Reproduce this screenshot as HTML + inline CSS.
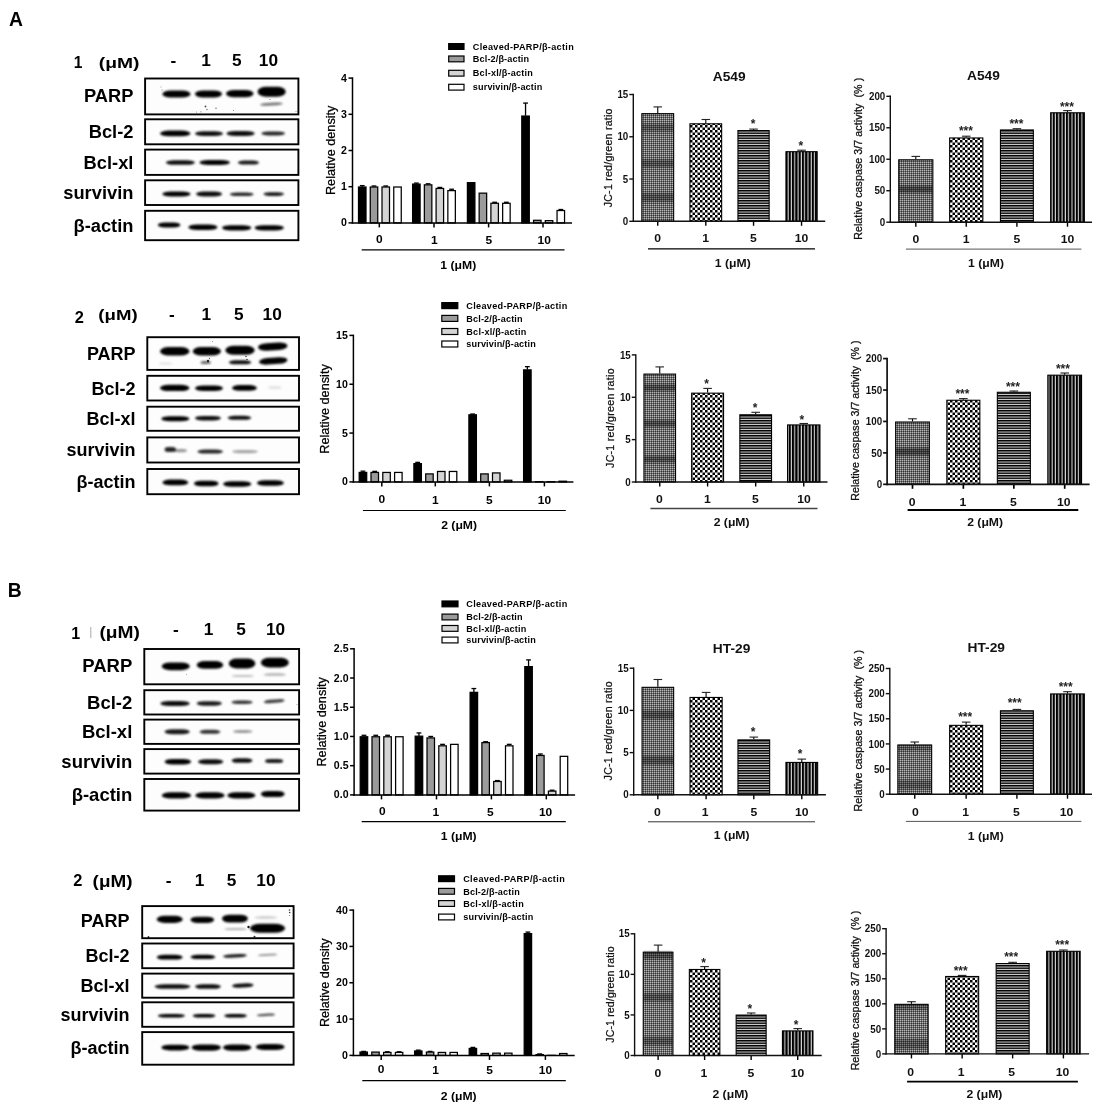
<!DOCTYPE html>
<html lang="en"><head><meta charset="utf-8"><title>Figure</title>
<style>
html,body{margin:0;padding:0;background:#fff;}
body{width:1111px;height:1113px;overflow:hidden;font-family:'Liberation Sans', Arial, Helvetica, sans-serif;}
svg{display:block;font-family:'Liberation Sans', Arial, Helvetica, sans-serif;}
</style></head><body>
<svg width="1111" height="1113" viewBox="0 0 1111 1113">
<defs>
<filter id="bl" x="-10%" y="-50%" width="120%" height="200%"><feGaussianBlur stdDeviation="0.9"/></filter>
<filter id="bl3" x="-50%" y="-50%" width="200%" height="200%"><feGaussianBlur stdDeviation="0.45"/></filter>
<filter id="bl2" x="-5%" y="-50%" width="110%" height="200%"><feGaussianBlur stdDeviation="0 1.2"/></filter>
<pattern id="pdot" width="2" height="2" patternUnits="userSpaceOnUse"><rect width="2" height="2" fill="#6e6e6e"/><rect width="1" height="1" fill="#b8b8b8"/><rect x="1" y="1" width="1" height="1" fill="#343434"/></pattern>
<pattern id="pchk" width="5.0" height="5.0" patternUnits="userSpaceOnUse"><rect width="5" height="5" fill="#fff"/><rect width="2.5" height="2.5" fill="#000"/><rect x="2.5" y="2.5" width="2.5" height="2.5" fill="#000"/></pattern>
<pattern id="phl" width="4" height="2.5" patternUnits="userSpaceOnUse"><rect width="4" height="2.5" fill="#dcdcdc"/><rect width="4" height="1.5" fill="#000"/></pattern>
<pattern id="pvl" width="3.3" height="4" patternUnits="userSpaceOnUse"><rect width="3.3" height="4" fill="#d8d8d8"/><rect width="2.2" height="4" fill="#000"/></pattern>
</defs>
<rect width="1111" height="1113" fill="#fff"/>
<text transform="translate(78.10,67.88)" font-size="15.6" font-weight="bold" text-anchor="middle" fill="#000" >1</text>
<text transform="translate(119.05,67.67)" font-size="15" font-weight="bold" text-anchor="middle" fill="#000" textLength="40.7" lengthAdjust="spacingAndGlyphs">(μM)</text>
<text transform="translate(173.40,65.93) scale(1.08,1)" font-size="16" font-weight="bold" text-anchor="middle" fill="#000" >-</text>
<text transform="translate(206.00,65.93) scale(1.08,1)" font-size="16" font-weight="bold" text-anchor="middle" fill="#000" >1</text>
<text transform="translate(236.80,65.93) scale(1.08,1)" font-size="16" font-weight="bold" text-anchor="middle" fill="#000" >5</text>
<text transform="translate(268.40,65.93) scale(1.08,1)" font-size="16" font-weight="bold" text-anchor="middle" fill="#000" >10</text>
<text transform="translate(133.40,101.50)" font-size="18.3" font-weight="bold" text-anchor="end" fill="#000" >PARP</text>
<rect x="145.10" y="78.50" width="153.30" height="35.90" fill="#fdfdfd" stroke="none" stroke-width="1.0" />
<text transform="translate(133.40,138.35)" font-size="18.3" font-weight="bold" text-anchor="end" fill="#000" >Bcl-2</text>
<rect x="145.10" y="119.30" width="153.30" height="25.00" fill="#fdfdfd" stroke="none" stroke-width="1.0" />
<text transform="translate(133.40,168.80)" font-size="18.3" font-weight="bold" text-anchor="end" fill="#000" >Bcl-xl</text>
<rect x="145.10" y="149.60" width="153.30" height="25.30" fill="#fdfdfd" stroke="none" stroke-width="1.0" />
<text transform="translate(133.40,199.20)" font-size="18.3" font-weight="bold" text-anchor="end" fill="#000" >survivin</text>
<rect x="145.10" y="180.30" width="153.30" height="24.70" fill="#fdfdfd" stroke="none" stroke-width="1.0" />
<text transform="translate(133.40,232.05)" font-size="18.3" font-weight="bold" text-anchor="end" fill="#000" >β-actin</text>
<rect x="145.10" y="210.80" width="153.30" height="29.40" fill="#fdfdfd" stroke="none" stroke-width="1.0" />
<g filter="url(#bl)">
<rect x="162.40" y="90.40" width="28.10" height="7.20" rx="8.43" ry="3.60" fill="#000" fill-opacity="1" transform="rotate(0 176.4 94.0)"/>
<rect x="195.00" y="90.60" width="27.00" height="6.80" rx="8.10" ry="3.40" fill="#000" fill-opacity="1" transform="rotate(0 208.5 94.0)"/>
<rect x="226.00" y="90.00" width="27.50" height="7.20" rx="8.25" ry="3.60" fill="#000" fill-opacity="1" transform="rotate(0 239.8 93.6)"/>
<rect x="257.60" y="86.80" width="28.10" height="10.00" rx="8.43" ry="5.00" fill="#000" fill-opacity="1" transform="rotate(0 271.6 91.8)"/>
<rect x="260.00" y="102.75" width="22.80" height="2.70" rx="6.84" ry="1.35" fill="#000" fill-opacity="0.55" transform="rotate(-3 271.4 104.1)"/>
<rect x="160.00" y="130.60" width="30.50" height="5.60" rx="9.15" ry="2.80" fill="#000" fill-opacity="1" transform="rotate(0 175.2 133.4)"/>
<rect x="195.00" y="131.30" width="28.00" height="4.60" rx="8.40" ry="2.30" fill="#000" fill-opacity="0.95" transform="rotate(0 209.0 133.6)"/>
<rect x="226.50" y="131.10" width="28.10" height="5.00" rx="8.43" ry="2.50" fill="#000" fill-opacity="0.95" transform="rotate(0 240.6 133.6)"/>
<rect x="261.40" y="131.40" width="23.60" height="4.00" rx="7.08" ry="2.00" fill="#000" fill-opacity="0.85" transform="rotate(0 273.2 133.4)"/>
<rect x="165.80" y="160.35" width="29.20" height="4.50" rx="8.76" ry="2.25" fill="#000" fill-opacity="0.95" transform="rotate(0 180.4 162.6)"/>
<rect x="199.50" y="160.10" width="30.40" height="5.00" rx="9.12" ry="2.50" fill="#000" fill-opacity="1" transform="rotate(0 214.7 162.6)"/>
<rect x="237.80" y="160.60" width="21.30" height="4.00" rx="6.39" ry="2.00" fill="#000" fill-opacity="0.9" transform="rotate(0 248.5 162.6)"/>
<rect x="162.40" y="191.60" width="28.10" height="5.00" rx="8.43" ry="2.50" fill="#000" fill-opacity="1" transform="rotate(0 176.4 194.1)"/>
<rect x="196.10" y="191.60" width="25.90" height="5.00" rx="7.77" ry="2.50" fill="#000" fill-opacity="0.95" transform="rotate(0 209.1 194.1)"/>
<rect x="229.90" y="192.50" width="23.60" height="3.60" rx="7.08" ry="1.80" fill="#000" fill-opacity="0.85" transform="rotate(0 241.7 194.3)"/>
<rect x="263.60" y="192.30" width="20.30" height="3.60" rx="6.09" ry="1.80" fill="#000" fill-opacity="0.9" transform="rotate(0 273.8 194.1)"/>
<rect x="157.90" y="222.50" width="22.50" height="5.00" rx="6.75" ry="2.50" fill="#000" fill-opacity="1" transform="rotate(0 169.2 225.0)"/>
<rect x="188.30" y="224.40" width="29.20" height="5.60" rx="8.76" ry="2.80" fill="#000" fill-opacity="1" transform="rotate(0 202.9 227.2)"/>
<rect x="222.00" y="225.20" width="29.30" height="5.20" rx="8.79" ry="2.60" fill="#000" fill-opacity="1" transform="rotate(0 236.7 227.8)"/>
<rect x="254.60" y="225.20" width="29.30" height="5.20" rx="8.79" ry="2.60" fill="#000" fill-opacity="1" transform="rotate(0 269.2 227.8)"/>
</g>
<g filter="url(#bl3)">
<circle cx="205.5" cy="106.5" r="0.9" fill="#000" fill-opacity="0.7"/>
<circle cx="207" cy="109.5" r="0.7" fill="#000" fill-opacity="0.6"/>
<circle cx="201" cy="111.8" r="0.6" fill="#000" fill-opacity="0.5"/>
<circle cx="216" cy="108.3" r="0.7" fill="#000" fill-opacity="0.6"/>
<circle cx="196.5" cy="112" r="0.5" fill="#000" fill-opacity="0.5"/>
<circle cx="233.5" cy="110.5" r="0.6" fill="#000" fill-opacity="0.5"/>
<circle cx="296" cy="111.5" r="0.5" fill="#000" fill-opacity="0.5"/>
<circle cx="161" cy="87" r="0.7" fill="#000" fill-opacity="0.25"/>
<circle cx="162" cy="90" r="0.7" fill="#000" fill-opacity="0.3"/>
<circle cx="270" cy="99.5" r="0.6" fill="#000" fill-opacity="0.5"/>
</g>
<rect x="145.10" y="78.50" width="153.30" height="35.90" fill="none" stroke="#000" stroke-width="1.9" />
<rect x="145.10" y="119.30" width="153.30" height="25.00" fill="none" stroke="#000" stroke-width="1.9" />
<rect x="145.10" y="149.60" width="153.30" height="25.30" fill="none" stroke="#000" stroke-width="1.9" />
<rect x="145.10" y="180.30" width="153.30" height="24.70" fill="none" stroke="#000" stroke-width="1.9" />
<rect x="145.10" y="210.80" width="153.30" height="29.40" fill="none" stroke="#000" stroke-width="1.9" />
<text transform="translate(79.40,322.67)" font-size="16.4" font-weight="bold" text-anchor="middle" fill="#000" >2</text>
<text transform="translate(117.95,320.37)" font-size="15" font-weight="bold" text-anchor="middle" fill="#000" textLength="39.3" lengthAdjust="spacingAndGlyphs">(μM)</text>
<text transform="translate(171.80,320.33) scale(1.08,1)" font-size="16" font-weight="bold" text-anchor="middle" fill="#000" >-</text>
<text transform="translate(206.30,320.33) scale(1.08,1)" font-size="16" font-weight="bold" text-anchor="middle" fill="#000" >1</text>
<text transform="translate(238.90,320.33) scale(1.08,1)" font-size="16" font-weight="bold" text-anchor="middle" fill="#000" >5</text>
<text transform="translate(272.20,320.33) scale(1.08,1)" font-size="16" font-weight="bold" text-anchor="middle" fill="#000" >10</text>
<text transform="translate(135.60,359.99)" font-size="18" font-weight="bold" text-anchor="end" fill="#000" >PARP</text>
<rect x="147.30" y="337.20" width="151.70" height="32.70" fill="#fdfdfd" stroke="none" stroke-width="1.0" />
<text transform="translate(135.60,394.59)" font-size="18" font-weight="bold" text-anchor="end" fill="#000" >Bcl-2</text>
<rect x="147.30" y="375.80" width="151.70" height="24.70" fill="#fdfdfd" stroke="none" stroke-width="1.0" />
<text transform="translate(135.60,425.19)" font-size="18" font-weight="bold" text-anchor="end" fill="#000" >Bcl-xl</text>
<rect x="147.30" y="406.70" width="151.70" height="24.10" fill="#fdfdfd" stroke="none" stroke-width="1.0" />
<text transform="translate(135.60,456.39)" font-size="18" font-weight="bold" text-anchor="end" fill="#000" >survivin</text>
<rect x="147.30" y="437.40" width="151.70" height="25.10" fill="#fdfdfd" stroke="none" stroke-width="1.0" />
<text transform="translate(135.60,488.04)" font-size="18" font-weight="bold" text-anchor="end" fill="#000" >β-actin</text>
<rect x="147.30" y="469.00" width="151.70" height="25.20" fill="#fdfdfd" stroke="none" stroke-width="1.0" />
<g filter="url(#bl)">
<rect x="160.10" y="346.95" width="29.30" height="8.50" rx="8.79" ry="4.25" fill="#000" fill-opacity="1" transform="rotate(0 174.8 351.2)"/>
<rect x="192.80" y="346.95" width="28.10" height="8.50" rx="8.43" ry="4.25" fill="#000" fill-opacity="1" transform="rotate(0 206.9 351.2)"/>
<rect x="225.40" y="345.80" width="29.20" height="9.00" rx="8.76" ry="4.50" fill="#000" fill-opacity="1" transform="rotate(0 240.0 350.3)"/>
<rect x="258.00" y="342.85" width="29.50" height="7.50" rx="8.85" ry="3.75" fill="#000" fill-opacity="1" transform="rotate(-3 272.8 346.6)"/>
<rect x="259.00" y="357.60" width="28.50" height="6.60" rx="8.55" ry="3.30" fill="#000" fill-opacity="1" transform="rotate(-4 273.2 360.9)"/>
<rect x="228.80" y="360.30" width="22.50" height="4.00" rx="6.75" ry="2.00" fill="#000" fill-opacity="0.95" transform="rotate(0 240.1 362.3)"/>
<rect x="200.60" y="361.00" width="10.20" height="3.00" rx="3.06" ry="1.50" fill="#000" fill-opacity="0.6" transform="rotate(0 205.7 362.5)"/>
<rect x="159.00" y="362.50" width="13.00" height="2.00" rx="3.90" ry="1.00" fill="#000" fill-opacity="0.12" transform="rotate(0 165.5 363.5)"/>
<rect x="160.00" y="384.75" width="29.40" height="6.30" rx="8.82" ry="3.15" fill="#000" fill-opacity="1" transform="rotate(0 174.7 387.9)"/>
<rect x="195.00" y="385.40" width="28.00" height="5.60" rx="8.40" ry="2.80" fill="#000" fill-opacity="1" transform="rotate(0 209.0 388.2)"/>
<rect x="232.00" y="385.10" width="24.90" height="5.60" rx="7.47" ry="2.80" fill="#000" fill-opacity="1" transform="rotate(0 244.4 387.9)"/>
<rect x="268.00" y="386.00" width="13.60" height="3.00" rx="4.08" ry="1.50" fill="#000" fill-opacity="0.1" transform="rotate(0 274.8 387.5)"/>
<rect x="161.30" y="416.20" width="28.10" height="5.00" rx="8.43" ry="2.50" fill="#000" fill-opacity="1" transform="rotate(0 175.4 418.7)"/>
<rect x="195.00" y="415.95" width="25.90" height="4.50" rx="7.77" ry="2.25" fill="#000" fill-opacity="0.95" transform="rotate(0 207.9 418.2)"/>
<rect x="227.60" y="415.80" width="23.70" height="4.00" rx="7.11" ry="2.00" fill="#000" fill-opacity="0.95" transform="rotate(0 239.4 417.8)"/>
<rect x="164.60" y="447.10" width="11.40" height="5.00" rx="3.42" ry="2.50" fill="#000" fill-opacity="0.85" transform="rotate(0 170.3 449.6)"/>
<rect x="174.00" y="448.90" width="13.00" height="3.40" rx="3.90" ry="1.70" fill="#000" fill-opacity="0.4" transform="rotate(0 180.5 450.6)"/>
<rect x="197.30" y="449.60" width="25.80" height="4.00" rx="7.74" ry="2.00" fill="#000" fill-opacity="0.85" transform="rotate(0 210.2 451.6)"/>
<rect x="232.10" y="450.00" width="25.90" height="3.20" rx="7.77" ry="1.60" fill="#000" fill-opacity="0.35" transform="rotate(0 245.1 451.6)"/>
<rect x="162.40" y="479.60" width="25.90" height="5.60" rx="7.77" ry="2.80" fill="#000" fill-opacity="1" transform="rotate(0 175.4 482.4)"/>
<rect x="193.90" y="480.70" width="24.70" height="5.60" rx="7.41" ry="2.80" fill="#000" fill-opacity="1" transform="rotate(0 206.2 483.5)"/>
<rect x="223.10" y="481.20" width="28.20" height="5.60" rx="8.46" ry="2.80" fill="#000" fill-opacity="1" transform="rotate(0 237.2 484.0)"/>
<rect x="256.90" y="480.20" width="27.00" height="5.60" rx="8.10" ry="2.80" fill="#000" fill-opacity="1" transform="rotate(0 270.4 483.0)"/>
</g>
<g filter="url(#bl3)">
<circle cx="208" cy="361" r="1.2" fill="#000" fill-opacity="0.8"/>
<circle cx="209.5" cy="358.5" r="0.7" fill="#000" fill-opacity="0.6"/>
<circle cx="246" cy="356.5" r="0.8" fill="#000" fill-opacity="0.7"/>
<circle cx="247" cy="359.5" r="0.8" fill="#000" fill-opacity="0.7"/>
<circle cx="212.5" cy="341.5" r="0.5" fill="#000" fill-opacity="0.5"/>
</g>
<rect x="147.30" y="337.20" width="151.70" height="32.70" fill="none" stroke="#000" stroke-width="1.9" />
<rect x="147.30" y="375.80" width="151.70" height="24.70" fill="none" stroke="#000" stroke-width="1.9" />
<rect x="147.30" y="406.70" width="151.70" height="24.10" fill="none" stroke="#000" stroke-width="1.9" />
<rect x="147.30" y="437.40" width="151.70" height="25.10" fill="none" stroke="#000" stroke-width="1.9" />
<rect x="147.30" y="469.00" width="151.70" height="25.20" fill="none" stroke="#000" stroke-width="1.9" />
<text transform="translate(75.65,638.93)" font-size="16" font-weight="bold" text-anchor="middle" fill="#000" >1</text>
<text transform="translate(119.65,638.11)" font-size="16.5" font-weight="bold" text-anchor="middle" fill="#000" textLength="40.5" lengthAdjust="spacingAndGlyphs">(μM)</text>
<text transform="translate(175.90,635.33) scale(1.08,1)" font-size="16" font-weight="bold" text-anchor="middle" fill="#000" >-</text>
<text transform="translate(208.50,635.33) scale(1.08,1)" font-size="16" font-weight="bold" text-anchor="middle" fill="#000" >1</text>
<text transform="translate(241.10,635.33) scale(1.08,1)" font-size="16" font-weight="bold" text-anchor="middle" fill="#000" >5</text>
<text transform="translate(275.60,635.33) scale(1.08,1)" font-size="16" font-weight="bold" text-anchor="middle" fill="#000" >10</text>
<line x1="90.80" y1="626.90" x2="90.80" y2="638.10" stroke="#a8a8a8" stroke-width="1.0" stroke-linecap="butt"/>
<text transform="translate(132.30,671.97)" font-size="18.5" font-weight="bold" text-anchor="end" fill="#000" >PARP</text>
<rect x="144.30" y="649.00" width="154.80" height="35.30" fill="#fdfdfd" stroke="none" stroke-width="1.0" />
<text transform="translate(132.30,708.97)" font-size="18.5" font-weight="bold" text-anchor="end" fill="#000" >Bcl-2</text>
<rect x="144.30" y="690.20" width="154.80" height="24.30" fill="#fdfdfd" stroke="none" stroke-width="1.0" />
<text transform="translate(132.30,738.37)" font-size="18.5" font-weight="bold" text-anchor="end" fill="#000" >Bcl-xl</text>
<rect x="144.30" y="719.60" width="154.80" height="24.30" fill="#fdfdfd" stroke="none" stroke-width="1.0" />
<text transform="translate(132.30,767.97)" font-size="18.5" font-weight="bold" text-anchor="end" fill="#000" >survivin</text>
<rect x="144.30" y="749.10" width="154.80" height="24.50" fill="#fdfdfd" stroke="none" stroke-width="1.0" />
<text transform="translate(132.30,801.42)" font-size="18.5" font-weight="bold" text-anchor="end" fill="#000" >β-actin</text>
<rect x="144.30" y="779.00" width="154.80" height="31.60" fill="#fdfdfd" stroke="none" stroke-width="1.0" />
<g filter="url(#bl)">
<rect x="161.80" y="662.40" width="27.90" height="7.80" rx="8.37" ry="3.90" fill="#000" fill-opacity="1" transform="rotate(0 175.8 666.3)"/>
<rect x="196.70" y="661.00" width="26.50" height="7.80" rx="7.95" ry="3.90" fill="#000" fill-opacity="1" transform="rotate(0 209.9 664.9)"/>
<rect x="228.80" y="658.60" width="26.50" height="9.80" rx="7.95" ry="4.90" fill="#000" fill-opacity="1" transform="rotate(0 242.1 663.5)"/>
<rect x="260.90" y="657.70" width="27.90" height="9.80" rx="8.37" ry="4.90" fill="#000" fill-opacity="1" transform="rotate(0 274.9 662.6)"/>
<rect x="231.60" y="675.00" width="22.30" height="2.00" rx="6.69" ry="1.00" fill="#000" fill-opacity="0.25" transform="rotate(0 242.8 676.0)"/>
<rect x="263.70" y="673.35" width="22.30" height="2.50" rx="6.69" ry="1.25" fill="#000" fill-opacity="0.3" transform="rotate(0 274.9 674.6)"/>
<rect x="160.40" y="701.10" width="29.30" height="5.00" rx="8.79" ry="2.50" fill="#000" fill-opacity="0.95" transform="rotate(0 175.1 703.6)"/>
<rect x="196.70" y="701.15" width="25.10" height="4.50" rx="7.53" ry="2.25" fill="#000" fill-opacity="0.9" transform="rotate(0 209.2 703.4)"/>
<rect x="231.60" y="700.60" width="20.90" height="3.40" rx="6.27" ry="1.70" fill="#000" fill-opacity="0.8" transform="rotate(0 242.1 702.3)"/>
<rect x="263.70" y="699.50" width="20.90" height="3.40" rx="6.27" ry="1.70" fill="#000" fill-opacity="0.75" transform="rotate(-5 274.1 701.2)"/>
<rect x="164.60" y="729.30" width="25.10" height="5.00" rx="7.53" ry="2.50" fill="#000" fill-opacity="0.9" transform="rotate(0 177.1 731.8)"/>
<rect x="199.50" y="729.80" width="20.90" height="4.00" rx="6.27" ry="2.00" fill="#000" fill-opacity="0.8" transform="rotate(0 209.9 731.8)"/>
<rect x="233.00" y="730.10" width="19.50" height="2.80" rx="5.85" ry="1.40" fill="#000" fill-opacity="0.4" transform="rotate(0 242.8 731.5)"/>
<rect x="164.60" y="758.90" width="26.50" height="5.60" rx="7.95" ry="2.80" fill="#000" fill-opacity="1" transform="rotate(0 177.8 761.7)"/>
<rect x="198.10" y="759.20" width="25.10" height="5.00" rx="7.53" ry="2.50" fill="#000" fill-opacity="0.95" transform="rotate(0 210.6 761.7)"/>
<rect x="231.60" y="758.35" width="20.90" height="4.50" rx="6.27" ry="2.25" fill="#000" fill-opacity="0.95" transform="rotate(0 242.1 760.6)"/>
<rect x="265.00" y="759.10" width="18.20" height="4.00" rx="5.46" ry="2.00" fill="#000" fill-opacity="0.9" transform="rotate(0 274.1 761.1)"/>
<rect x="161.80" y="792.30" width="29.30" height="6.20" rx="8.79" ry="3.10" fill="#000" fill-opacity="1" transform="rotate(0 176.4 795.4)"/>
<rect x="195.30" y="792.30" width="29.30" height="6.20" rx="8.79" ry="3.10" fill="#000" fill-opacity="1" transform="rotate(0 209.9 795.4)"/>
<rect x="227.40" y="792.30" width="27.90" height="6.20" rx="8.37" ry="3.10" fill="#000" fill-opacity="1" transform="rotate(0 241.4 795.4)"/>
<rect x="260.90" y="790.90" width="23.70" height="6.20" rx="7.11" ry="3.10" fill="#000" fill-opacity="1" transform="rotate(0 272.8 794.0)"/>
</g>
<g filter="url(#bl3)">
<circle cx="186.5" cy="674.5" r="0.5" fill="#000" fill-opacity="0.4"/>
<circle cx="297" cy="704.5" r="0.6" fill="#000" fill-opacity="0.4"/>
</g>
<rect x="144.30" y="649.00" width="154.80" height="35.30" fill="none" stroke="#000" stroke-width="1.9" />
<rect x="144.30" y="690.20" width="154.80" height="24.30" fill="none" stroke="#000" stroke-width="1.9" />
<rect x="144.30" y="719.60" width="154.80" height="24.30" fill="none" stroke="#000" stroke-width="1.9" />
<rect x="144.30" y="749.10" width="154.80" height="24.50" fill="none" stroke="#000" stroke-width="1.9" />
<rect x="144.30" y="779.00" width="154.80" height="31.60" fill="none" stroke="#000" stroke-width="1.9" />
<text transform="translate(77.90,885.87)" font-size="16.4" font-weight="bold" text-anchor="middle" fill="#000" >2</text>
<text transform="translate(112.55,886.98)" font-size="15.6" font-weight="bold" text-anchor="middle" fill="#000" textLength="39.9" lengthAdjust="spacingAndGlyphs">(μM)</text>
<text transform="translate(168.70,886.23) scale(1.08,1)" font-size="16" font-weight="bold" text-anchor="middle" fill="#000" >-</text>
<text transform="translate(199.50,886.23) scale(1.08,1)" font-size="16" font-weight="bold" text-anchor="middle" fill="#000" >1</text>
<text transform="translate(231.50,886.23) scale(1.08,1)" font-size="16" font-weight="bold" text-anchor="middle" fill="#000" >5</text>
<text transform="translate(265.90,886.23) scale(1.08,1)" font-size="16" font-weight="bold" text-anchor="middle" fill="#000" >10</text>
<text transform="translate(129.50,926.59)" font-size="18" font-weight="bold" text-anchor="end" fill="#000" >PARP</text>
<rect x="142.20" y="906.10" width="151.40" height="32.10" fill="#fdfdfd" stroke="none" stroke-width="1.0" />
<text transform="translate(129.50,962.29)" font-size="18" font-weight="bold" text-anchor="end" fill="#000" >Bcl-2</text>
<rect x="142.20" y="943.50" width="151.40" height="24.70" fill="#fdfdfd" stroke="none" stroke-width="1.0" />
<text transform="translate(129.50,992.09)" font-size="18" font-weight="bold" text-anchor="end" fill="#000" >Bcl-xl</text>
<rect x="142.20" y="973.60" width="151.40" height="24.10" fill="#fdfdfd" stroke="none" stroke-width="1.0" />
<text transform="translate(129.50,1020.99)" font-size="18" font-weight="bold" text-anchor="end" fill="#000" >survivin</text>
<rect x="142.20" y="1002.30" width="151.40" height="24.50" fill="#fdfdfd" stroke="none" stroke-width="1.0" />
<text transform="translate(129.50,1053.64)" font-size="18" font-weight="bold" text-anchor="end" fill="#000" >β-actin</text>
<rect x="142.20" y="1032.10" width="151.40" height="32.60" fill="#fdfdfd" stroke="none" stroke-width="1.0" />
<g filter="url(#bl)">
<rect x="156.80" y="915.70" width="25.80" height="7.20" rx="7.74" ry="3.60" fill="#000" fill-opacity="1" transform="rotate(0 169.7 919.3)"/>
<rect x="190.50" y="916.65" width="23.60" height="6.30" rx="7.08" ry="3.15" fill="#000" fill-opacity="1" transform="rotate(0 202.3 919.8)"/>
<rect x="222.00" y="914.65" width="25.90" height="7.90" rx="7.77" ry="3.95" fill="#000" fill-opacity="1" transform="rotate(0 234.9 918.6)"/>
<rect x="254.60" y="916.35" width="22.50" height="2.30" rx="6.75" ry="1.15" fill="#000" fill-opacity="0.2" transform="rotate(0 265.9 917.5)"/>
<rect x="250.10" y="923.80" width="34.90" height="9.00" rx="10.47" ry="4.50" fill="#000" fill-opacity="1" transform="rotate(0 267.6 928.3)"/>
<rect x="224.30" y="928.30" width="22.50" height="1.80" rx="6.75" ry="0.90" fill="#000" fill-opacity="0.35" transform="rotate(0 235.6 929.2)"/>
<rect x="156.80" y="954.80" width="25.80" height="4.80" rx="7.74" ry="2.40" fill="#000" fill-opacity="1" transform="rotate(0 169.7 957.2)"/>
<rect x="190.50" y="954.75" width="24.80" height="4.30" rx="7.44" ry="2.15" fill="#000" fill-opacity="1" transform="rotate(0 202.9 956.9)"/>
<rect x="223.10" y="954.20" width="23.70" height="3.20" rx="7.11" ry="1.60" fill="#000" fill-opacity="0.9" transform="rotate(-3 234.9 955.8)"/>
<rect x="258.00" y="954.00" width="19.10" height="1.80" rx="5.73" ry="0.90" fill="#000" fill-opacity="0.45" transform="rotate(-3 267.6 954.9)"/>
<rect x="154.50" y="984.35" width="36.00" height="4.50" rx="10.80" ry="2.25" fill="#000" fill-opacity="0.95" transform="rotate(0 172.5 986.6)"/>
<rect x="195.00" y="984.35" width="25.90" height="4.50" rx="7.77" ry="2.25" fill="#000" fill-opacity="0.95" transform="rotate(0 207.9 986.6)"/>
<rect x="232.10" y="983.50" width="21.40" height="4.00" rx="6.42" ry="2.00" fill="#000" fill-opacity="0.95" transform="rotate(-3 242.8 985.5)"/>
<rect x="157.90" y="1014.00" width="27.00" height="3.60" rx="8.10" ry="1.80" fill="#000" fill-opacity="1" transform="rotate(0 171.4 1015.8)"/>
<rect x="192.80" y="1014.00" width="22.50" height="3.60" rx="6.75" ry="1.80" fill="#000" fill-opacity="1" transform="rotate(0 204.1 1015.8)"/>
<rect x="224.30" y="1014.00" width="22.50" height="3.60" rx="6.75" ry="1.80" fill="#000" fill-opacity="1" transform="rotate(0 235.6 1015.8)"/>
<rect x="256.90" y="1013.75" width="18.00" height="2.30" rx="5.40" ry="1.15" fill="#000" fill-opacity="0.7" transform="rotate(-3 265.9 1014.9)"/>
<rect x="161.30" y="1044.80" width="28.10" height="5.60" rx="8.43" ry="2.80" fill="#000" fill-opacity="1" transform="rotate(0 175.4 1047.6)"/>
<rect x="191.60" y="1044.45" width="29.30" height="6.30" rx="8.79" ry="3.15" fill="#000" fill-opacity="1" transform="rotate(0 206.2 1047.6)"/>
<rect x="223.10" y="1044.45" width="28.20" height="6.30" rx="8.46" ry="3.15" fill="#000" fill-opacity="1" transform="rotate(0 237.2 1047.6)"/>
<rect x="255.80" y="1043.90" width="28.80" height="6.00" rx="8.64" ry="3.00" fill="#000" fill-opacity="1" transform="rotate(0 270.2 1046.9)"/>
</g>
<g filter="url(#bl3)">
<circle cx="289.5" cy="910" r="0.8" fill="#000" fill-opacity="0.8"/>
<circle cx="289.7" cy="912.5" r="0.8" fill="#000" fill-opacity="0.8"/>
<circle cx="289.5" cy="915.5" r="0.6" fill="#000" fill-opacity="0.5"/>
<circle cx="148.5" cy="937" r="0.9" fill="#000" fill-opacity="0.8"/>
<circle cx="254.5" cy="936.8" r="1.0" fill="#000" fill-opacity="0.8"/>
<circle cx="248.5" cy="927" r="1.2" fill="#000" fill-opacity="0.9"/>
</g>
<rect x="142.20" y="906.10" width="151.40" height="32.10" fill="none" stroke="#000" stroke-width="1.9" />
<rect x="142.20" y="943.50" width="151.40" height="24.70" fill="none" stroke="#000" stroke-width="1.9" />
<rect x="142.20" y="973.60" width="151.40" height="24.10" fill="none" stroke="#000" stroke-width="1.9" />
<rect x="142.20" y="1002.30" width="151.40" height="24.50" fill="none" stroke="#000" stroke-width="1.9" />
<rect x="142.20" y="1032.10" width="151.40" height="32.60" fill="none" stroke="#000" stroke-width="1.9" />
<line x1="362.25" y1="186.70" x2="362.25" y2="185.61" stroke="#000" stroke-width="1.3" stroke-linecap="butt"/>
<line x1="359.85" y1="185.61" x2="364.65" y2="185.61" stroke="#000" stroke-width="1.3" stroke-linecap="butt"/>
<rect x="358.50" y="187.00" width="7.50" height="35.90" fill="#000" stroke="#000" stroke-width="1.25" />
<line x1="374.00" y1="186.70" x2="374.00" y2="185.98" stroke="#000" stroke-width="1.3" stroke-linecap="butt"/>
<line x1="371.60" y1="185.98" x2="376.40" y2="185.98" stroke="#000" stroke-width="1.3" stroke-linecap="butt"/>
<rect x="370.25" y="187.00" width="7.50" height="35.90" fill="#9b9b9b" stroke="#000" stroke-width="1.25" />
<line x1="385.75" y1="186.70" x2="385.75" y2="185.98" stroke="#000" stroke-width="1.3" stroke-linecap="butt"/>
<line x1="383.35" y1="185.98" x2="388.15" y2="185.98" stroke="#000" stroke-width="1.3" stroke-linecap="butt"/>
<rect x="382.00" y="187.00" width="7.50" height="35.90" fill="#d4d4d4" stroke="#000" stroke-width="1.25" />
<rect x="393.75" y="187.00" width="7.50" height="35.90" fill="#fff" stroke="#000" stroke-width="1.25" />
<line x1="416.35" y1="183.80" x2="416.35" y2="183.08" stroke="#000" stroke-width="1.3" stroke-linecap="butt"/>
<line x1="413.95" y1="183.08" x2="418.75" y2="183.08" stroke="#000" stroke-width="1.3" stroke-linecap="butt"/>
<rect x="412.60" y="184.10" width="7.50" height="38.80" fill="#000" stroke="#000" stroke-width="1.25" />
<line x1="428.10" y1="184.53" x2="428.10" y2="183.80" stroke="#000" stroke-width="1.3" stroke-linecap="butt"/>
<line x1="425.70" y1="183.80" x2="430.50" y2="183.80" stroke="#000" stroke-width="1.3" stroke-linecap="butt"/>
<rect x="424.35" y="184.83" width="7.50" height="38.07" fill="#9b9b9b" stroke="#000" stroke-width="1.25" />
<line x1="439.85" y1="188.15" x2="439.85" y2="187.42" stroke="#000" stroke-width="1.3" stroke-linecap="butt"/>
<line x1="437.45" y1="187.42" x2="442.25" y2="187.42" stroke="#000" stroke-width="1.3" stroke-linecap="butt"/>
<rect x="436.10" y="188.45" width="7.50" height="34.45" fill="#d4d4d4" stroke="#000" stroke-width="1.25" />
<line x1="451.60" y1="190.32" x2="451.60" y2="189.23" stroke="#000" stroke-width="1.3" stroke-linecap="butt"/>
<line x1="449.20" y1="189.23" x2="454.00" y2="189.23" stroke="#000" stroke-width="1.3" stroke-linecap="butt"/>
<rect x="447.85" y="190.62" width="7.50" height="32.28" fill="#fff" stroke="#000" stroke-width="1.25" />
<rect x="467.40" y="182.66" width="7.50" height="40.24" fill="#000" stroke="#000" stroke-width="1.25" />
<rect x="479.15" y="193.15" width="7.50" height="29.75" fill="#9b9b9b" stroke="#000" stroke-width="1.25" />
<line x1="494.65" y1="202.99" x2="494.65" y2="202.27" stroke="#000" stroke-width="1.3" stroke-linecap="butt"/>
<line x1="492.25" y1="202.27" x2="497.05" y2="202.27" stroke="#000" stroke-width="1.3" stroke-linecap="butt"/>
<rect x="490.90" y="203.29" width="7.50" height="19.61" fill="#d4d4d4" stroke="#000" stroke-width="1.25" />
<line x1="506.40" y1="202.99" x2="506.40" y2="202.27" stroke="#000" stroke-width="1.3" stroke-linecap="butt"/>
<line x1="504.00" y1="202.27" x2="508.80" y2="202.27" stroke="#000" stroke-width="1.3" stroke-linecap="butt"/>
<rect x="502.65" y="203.29" width="7.50" height="19.61" fill="#fff" stroke="#000" stroke-width="1.25" />
<line x1="525.55" y1="115.75" x2="525.55" y2="103.08" stroke="#000" stroke-width="1.3" stroke-linecap="butt"/>
<line x1="523.15" y1="103.08" x2="527.95" y2="103.08" stroke="#000" stroke-width="1.3" stroke-linecap="butt"/>
<rect x="521.80" y="116.05" width="7.50" height="106.85" fill="#000" stroke="#000" stroke-width="1.25" />
<rect x="533.55" y="220.30" width="7.50" height="2.60" fill="#9b9b9b" stroke="#000" stroke-width="1.25" />
<rect x="545.30" y="220.67" width="7.50" height="2.23" fill="#d4d4d4" stroke="#000" stroke-width="1.25" />
<line x1="560.80" y1="210.23" x2="560.80" y2="209.51" stroke="#000" stroke-width="1.3" stroke-linecap="butt"/>
<line x1="558.40" y1="209.51" x2="563.20" y2="209.51" stroke="#000" stroke-width="1.3" stroke-linecap="butt"/>
<rect x="557.05" y="210.53" width="7.50" height="12.37" fill="#fff" stroke="#000" stroke-width="1.25" />
<line x1="352.50" y1="77.35" x2="352.50" y2="223.65" stroke="#000" stroke-width="1.5" stroke-linecap="butt"/>
<line x1="351.75" y1="222.90" x2="572.00" y2="222.90" stroke="#000" stroke-width="1.5" stroke-linecap="butt"/>
<line x1="348.50" y1="222.90" x2="352.50" y2="222.90" stroke="#000" stroke-width="1.5" stroke-linecap="butt"/>
<text transform="translate(347.00,226.48) scale(1.06,1)" font-size="10" font-weight="bold" text-anchor="end" fill="#000" >0</text>
<line x1="348.50" y1="186.70" x2="352.50" y2="186.70" stroke="#000" stroke-width="1.5" stroke-linecap="butt"/>
<text transform="translate(347.00,190.28) scale(1.06,1)" font-size="10" font-weight="bold" text-anchor="end" fill="#000" >1</text>
<line x1="348.50" y1="150.50" x2="352.50" y2="150.50" stroke="#000" stroke-width="1.5" stroke-linecap="butt"/>
<text transform="translate(347.00,154.08) scale(1.06,1)" font-size="10" font-weight="bold" text-anchor="end" fill="#000" >2</text>
<line x1="348.50" y1="114.30" x2="352.50" y2="114.30" stroke="#000" stroke-width="1.5" stroke-linecap="butt"/>
<text transform="translate(347.00,117.88) scale(1.06,1)" font-size="10" font-weight="bold" text-anchor="end" fill="#000" >3</text>
<line x1="348.50" y1="78.10" x2="352.50" y2="78.10" stroke="#000" stroke-width="1.5" stroke-linecap="butt"/>
<text transform="translate(347.00,81.68) scale(1.06,1)" font-size="10" font-weight="bold" text-anchor="end" fill="#000" >4</text>
<line x1="379.30" y1="222.90" x2="379.30" y2="227.40" stroke="#000" stroke-width="1.5" stroke-linecap="butt"/>
<line x1="434.00" y1="222.90" x2="434.00" y2="227.40" stroke="#000" stroke-width="1.5" stroke-linecap="butt"/>
<line x1="488.60" y1="222.90" x2="488.60" y2="227.40" stroke="#000" stroke-width="1.5" stroke-linecap="butt"/>
<line x1="543.00" y1="222.90" x2="543.00" y2="227.40" stroke="#000" stroke-width="1.5" stroke-linecap="butt"/>
<text transform="translate(379.30,243.12) scale(1.04,1)" font-size="11.5" font-weight="bold" text-anchor="middle" fill="#000" >0</text>
<text transform="translate(434.30,244.42) scale(1.04,1)" font-size="11.5" font-weight="bold" text-anchor="middle" fill="#000" >1</text>
<text transform="translate(488.80,244.42) scale(1.04,1)" font-size="11.5" font-weight="bold" text-anchor="middle" fill="#000" >5</text>
<text transform="translate(544.20,244.42) scale(1.04,1)" font-size="11.5" font-weight="bold" text-anchor="middle" fill="#000" >10</text>
<line x1="361.70" y1="249.80" x2="564.50" y2="249.80" stroke="#000" stroke-width="1.2" stroke-linecap="butt"/>
<text transform="translate(458.30,269.12) scale(1.06,1)" font-size="11.5" font-weight="bold" text-anchor="middle" fill="#000" >1 (μM)</text>
<text transform="translate(335.18,150.30) rotate(-90)" font-size="12.5" font-weight="normal" text-anchor="middle" fill="#000" stroke="#000" stroke-width="0.25" textLength="89.5" lengthAdjust="spacingAndGlyphs">Relative density</text>
<rect x="448.70" y="43.60" width="15.30" height="5.80" fill="#000" stroke="#000" stroke-width="1.2" />
<text transform="translate(472.80,49.76)" font-size="9.1" font-weight="bold" text-anchor="start" fill="#000" textLength="100.9" lengthAdjust="spacing">Cleaved-PARP/β-actin</text>
<rect x="448.70" y="56.00" width="15.30" height="5.80" fill="#9b9b9b" stroke="#000" stroke-width="1.2" />
<text transform="translate(472.80,62.16)" font-size="9.1" font-weight="bold" text-anchor="start" fill="#000" textLength="56.3" lengthAdjust="spacing">Bcl-2/β-actin</text>
<rect x="448.70" y="70.30" width="15.30" height="5.80" fill="#d4d4d4" stroke="#000" stroke-width="1.2" />
<text transform="translate(472.80,76.46)" font-size="9.1" font-weight="bold" text-anchor="start" fill="#000" textLength="60.1" lengthAdjust="spacing">Bcl-xl/β-actin</text>
<rect x="448.70" y="84.30" width="15.30" height="5.80" fill="#fff" stroke="#000" stroke-width="1.2" />
<text transform="translate(472.80,90.46)" font-size="9.1" font-weight="bold" text-anchor="start" fill="#000" textLength="69.4" lengthAdjust="spacing">survivin/β-actin</text>
<line x1="362.95" y1="472.13" x2="362.95" y2="471.16" stroke="#000" stroke-width="1.3" stroke-linecap="butt"/>
<line x1="360.55" y1="471.16" x2="365.35" y2="471.16" stroke="#000" stroke-width="1.3" stroke-linecap="butt"/>
<rect x="359.20" y="472.43" width="7.50" height="9.47" fill="#000" stroke="#000" stroke-width="1.25" />
<line x1="374.75" y1="472.13" x2="374.75" y2="471.35" stroke="#000" stroke-width="1.3" stroke-linecap="butt"/>
<line x1="372.35" y1="471.35" x2="377.15" y2="471.35" stroke="#000" stroke-width="1.3" stroke-linecap="butt"/>
<rect x="371.00" y="472.43" width="7.50" height="9.47" fill="#9b9b9b" stroke="#000" stroke-width="1.25" />
<rect x="382.80" y="472.43" width="7.50" height="9.47" fill="#d4d4d4" stroke="#000" stroke-width="1.25" />
<rect x="394.60" y="472.43" width="7.50" height="9.47" fill="#fff" stroke="#000" stroke-width="1.25" />
<line x1="417.65" y1="463.34" x2="417.65" y2="462.37" stroke="#000" stroke-width="1.3" stroke-linecap="butt"/>
<line x1="415.25" y1="462.37" x2="420.05" y2="462.37" stroke="#000" stroke-width="1.3" stroke-linecap="butt"/>
<rect x="413.90" y="463.64" width="7.50" height="18.26" fill="#000" stroke="#000" stroke-width="1.25" />
<rect x="425.70" y="473.90" width="7.50" height="8.00" fill="#9b9b9b" stroke="#000" stroke-width="1.25" />
<rect x="437.50" y="471.46" width="7.50" height="10.44" fill="#d4d4d4" stroke="#000" stroke-width="1.25" />
<rect x="449.30" y="471.46" width="7.50" height="10.44" fill="#fff" stroke="#000" stroke-width="1.25" />
<line x1="472.65" y1="414.51" x2="472.65" y2="414.02" stroke="#000" stroke-width="1.3" stroke-linecap="butt"/>
<line x1="470.25" y1="414.02" x2="475.05" y2="414.02" stroke="#000" stroke-width="1.3" stroke-linecap="butt"/>
<rect x="468.90" y="414.81" width="7.50" height="67.09" fill="#000" stroke="#000" stroke-width="1.25" />
<rect x="480.70" y="473.90" width="7.50" height="8.00" fill="#9b9b9b" stroke="#000" stroke-width="1.25" />
<rect x="492.50" y="472.92" width="7.50" height="8.98" fill="#d4d4d4" stroke="#000" stroke-width="1.25" />
<rect x="504.30" y="480.25" width="7.50" height="1.65" fill="#fff" stroke="#000" stroke-width="1.25" />
<line x1="527.35" y1="369.58" x2="527.35" y2="366.65" stroke="#000" stroke-width="1.3" stroke-linecap="butt"/>
<line x1="524.95" y1="366.65" x2="529.75" y2="366.65" stroke="#000" stroke-width="1.3" stroke-linecap="butt"/>
<rect x="523.60" y="369.88" width="7.50" height="112.02" fill="#000" stroke="#000" stroke-width="1.25" />
<rect x="535.40" y="481.71" width="7.50" height="0.19" fill="#9b9b9b" stroke="#000" stroke-width="1.25" />
<rect x="547.20" y="481.71" width="7.50" height="0.19" fill="#d4d4d4" stroke="#000" stroke-width="1.25" />
<rect x="559.00" y="481.22" width="7.50" height="0.68" fill="#fff" stroke="#000" stroke-width="1.25" />
<line x1="353.40" y1="334.65" x2="353.40" y2="482.65" stroke="#000" stroke-width="1.5" stroke-linecap="butt"/>
<line x1="352.65" y1="481.90" x2="573.40" y2="481.90" stroke="#000" stroke-width="1.5" stroke-linecap="butt"/>
<line x1="349.40" y1="481.90" x2="353.40" y2="481.90" stroke="#000" stroke-width="1.5" stroke-linecap="butt"/>
<text transform="translate(347.90,485.48) scale(1.06,1)" font-size="10" font-weight="bold" text-anchor="end" fill="#000" >0</text>
<line x1="349.40" y1="433.07" x2="353.40" y2="433.07" stroke="#000" stroke-width="1.5" stroke-linecap="butt"/>
<text transform="translate(347.90,436.65) scale(1.06,1)" font-size="10" font-weight="bold" text-anchor="end" fill="#000" >5</text>
<line x1="349.40" y1="384.23" x2="353.40" y2="384.23" stroke="#000" stroke-width="1.5" stroke-linecap="butt"/>
<text transform="translate(347.90,387.81) scale(1.06,1)" font-size="10" font-weight="bold" text-anchor="end" fill="#000" >10</text>
<line x1="349.40" y1="335.40" x2="353.40" y2="335.40" stroke="#000" stroke-width="1.5" stroke-linecap="butt"/>
<text transform="translate(347.90,338.98) scale(1.06,1)" font-size="10" font-weight="bold" text-anchor="end" fill="#000" >15</text>
<line x1="381.80" y1="481.90" x2="381.80" y2="486.40" stroke="#000" stroke-width="1.5" stroke-linecap="butt"/>
<line x1="435.30" y1="481.90" x2="435.30" y2="486.40" stroke="#000" stroke-width="1.5" stroke-linecap="butt"/>
<line x1="489.40" y1="481.90" x2="489.40" y2="486.40" stroke="#000" stroke-width="1.5" stroke-linecap="butt"/>
<line x1="544.40" y1="481.90" x2="544.40" y2="486.40" stroke="#000" stroke-width="1.5" stroke-linecap="butt"/>
<text transform="translate(381.80,502.82) scale(1.04,1)" font-size="11.5" font-weight="bold" text-anchor="middle" fill="#000" >0</text>
<text transform="translate(435.30,504.12) scale(1.04,1)" font-size="11.5" font-weight="bold" text-anchor="middle" fill="#000" >1</text>
<text transform="translate(489.40,504.12) scale(1.04,1)" font-size="11.5" font-weight="bold" text-anchor="middle" fill="#000" >5</text>
<text transform="translate(544.40,504.12) scale(1.04,1)" font-size="11.5" font-weight="bold" text-anchor="middle" fill="#000" >10</text>
<line x1="362.90" y1="510.50" x2="565.80" y2="510.50" stroke="#000" stroke-width="1.2" stroke-linecap="butt"/>
<text transform="translate(459.10,529.42) scale(1.06,1)" font-size="11.5" font-weight="bold" text-anchor="middle" fill="#000" >2 (μM)</text>
<text transform="translate(329.08,409.00) rotate(-90)" font-size="12.5" font-weight="normal" text-anchor="middle" fill="#000" stroke="#000" stroke-width="0.25" textLength="89.5" lengthAdjust="spacingAndGlyphs">Relative density</text>
<rect x="441.80" y="302.60" width="16.00" height="6.00" fill="#000" stroke="#000" stroke-width="1.2" />
<text transform="translate(466.30,308.86)" font-size="9.1" font-weight="bold" text-anchor="start" fill="#000" textLength="100.9" lengthAdjust="spacing">Cleaved-PARP/β-actin</text>
<rect x="441.80" y="315.40" width="16.00" height="6.00" fill="#9b9b9b" stroke="#000" stroke-width="1.2" />
<text transform="translate(466.30,321.66)" font-size="9.1" font-weight="bold" text-anchor="start" fill="#000" textLength="56.3" lengthAdjust="spacing">Bcl-2/β-actin</text>
<rect x="441.80" y="328.50" width="16.00" height="6.00" fill="#d4d4d4" stroke="#000" stroke-width="1.2" />
<text transform="translate(466.30,334.76)" font-size="9.1" font-weight="bold" text-anchor="start" fill="#000" textLength="60.1" lengthAdjust="spacing">Bcl-xl/β-actin</text>
<rect x="441.80" y="341.00" width="16.00" height="6.00" fill="#fff" stroke="#000" stroke-width="1.2" />
<text transform="translate(466.30,347.26)" font-size="9.1" font-weight="bold" text-anchor="start" fill="#000" textLength="69.4" lengthAdjust="spacing">survivin/β-actin</text>
<line x1="363.95" y1="736.46" x2="363.95" y2="735.29" stroke="#000" stroke-width="1.3" stroke-linecap="butt"/>
<line x1="361.55" y1="735.29" x2="366.35" y2="735.29" stroke="#000" stroke-width="1.3" stroke-linecap="butt"/>
<rect x="360.20" y="736.76" width="7.50" height="58.14" fill="#000" stroke="#000" stroke-width="1.25" />
<line x1="375.75" y1="736.46" x2="375.75" y2="735.29" stroke="#000" stroke-width="1.3" stroke-linecap="butt"/>
<line x1="373.35" y1="735.29" x2="378.15" y2="735.29" stroke="#000" stroke-width="1.3" stroke-linecap="butt"/>
<rect x="372.00" y="736.76" width="7.50" height="58.14" fill="#9b9b9b" stroke="#000" stroke-width="1.25" />
<line x1="387.55" y1="736.46" x2="387.55" y2="735.29" stroke="#000" stroke-width="1.3" stroke-linecap="butt"/>
<line x1="385.15" y1="735.29" x2="389.95" y2="735.29" stroke="#000" stroke-width="1.3" stroke-linecap="butt"/>
<rect x="383.80" y="736.76" width="7.50" height="58.14" fill="#d4d4d4" stroke="#000" stroke-width="1.25" />
<rect x="395.60" y="736.76" width="7.50" height="58.14" fill="#fff" stroke="#000" stroke-width="1.25" />
<line x1="418.95" y1="735.88" x2="418.95" y2="732.95" stroke="#000" stroke-width="1.3" stroke-linecap="butt"/>
<line x1="416.55" y1="732.95" x2="421.35" y2="732.95" stroke="#000" stroke-width="1.3" stroke-linecap="butt"/>
<rect x="415.20" y="736.18" width="7.50" height="58.72" fill="#000" stroke="#000" stroke-width="1.25" />
<line x1="430.75" y1="737.63" x2="430.75" y2="736.46" stroke="#000" stroke-width="1.3" stroke-linecap="butt"/>
<line x1="428.35" y1="736.46" x2="433.15" y2="736.46" stroke="#000" stroke-width="1.3" stroke-linecap="butt"/>
<rect x="427.00" y="737.93" width="7.50" height="56.97" fill="#9b9b9b" stroke="#000" stroke-width="1.25" />
<line x1="442.55" y1="745.52" x2="442.55" y2="744.35" stroke="#000" stroke-width="1.3" stroke-linecap="butt"/>
<line x1="440.15" y1="744.35" x2="444.95" y2="744.35" stroke="#000" stroke-width="1.3" stroke-linecap="butt"/>
<rect x="438.80" y="745.82" width="7.50" height="49.08" fill="#d4d4d4" stroke="#000" stroke-width="1.25" />
<rect x="450.60" y="744.36" width="7.50" height="50.54" fill="#fff" stroke="#000" stroke-width="1.25" />
<line x1="473.85" y1="692.05" x2="473.85" y2="688.54" stroke="#000" stroke-width="1.3" stroke-linecap="butt"/>
<line x1="471.45" y1="688.54" x2="476.25" y2="688.54" stroke="#000" stroke-width="1.3" stroke-linecap="butt"/>
<rect x="470.10" y="692.35" width="7.50" height="102.55" fill="#000" stroke="#000" stroke-width="1.25" />
<line x1="485.65" y1="742.30" x2="485.65" y2="741.72" stroke="#000" stroke-width="1.3" stroke-linecap="butt"/>
<line x1="483.25" y1="741.72" x2="488.05" y2="741.72" stroke="#000" stroke-width="1.3" stroke-linecap="butt"/>
<rect x="481.90" y="742.60" width="7.50" height="52.30" fill="#9b9b9b" stroke="#000" stroke-width="1.25" />
<line x1="497.45" y1="781.17" x2="497.45" y2="780.58" stroke="#000" stroke-width="1.3" stroke-linecap="butt"/>
<line x1="495.05" y1="780.58" x2="499.85" y2="780.58" stroke="#000" stroke-width="1.3" stroke-linecap="butt"/>
<rect x="493.70" y="781.47" width="7.50" height="13.43" fill="#d4d4d4" stroke="#000" stroke-width="1.25" />
<line x1="509.25" y1="745.52" x2="509.25" y2="744.35" stroke="#000" stroke-width="1.3" stroke-linecap="butt"/>
<line x1="506.85" y1="744.35" x2="511.65" y2="744.35" stroke="#000" stroke-width="1.3" stroke-linecap="butt"/>
<rect x="505.50" y="745.82" width="7.50" height="49.08" fill="#fff" stroke="#000" stroke-width="1.25" />
<line x1="528.55" y1="666.33" x2="528.55" y2="659.90" stroke="#000" stroke-width="1.3" stroke-linecap="butt"/>
<line x1="526.15" y1="659.90" x2="530.95" y2="659.90" stroke="#000" stroke-width="1.3" stroke-linecap="butt"/>
<rect x="524.80" y="666.63" width="7.50" height="128.27" fill="#000" stroke="#000" stroke-width="1.25" />
<line x1="540.35" y1="755.16" x2="540.35" y2="753.99" stroke="#000" stroke-width="1.3" stroke-linecap="butt"/>
<line x1="537.95" y1="753.99" x2="542.75" y2="753.99" stroke="#000" stroke-width="1.3" stroke-linecap="butt"/>
<rect x="536.60" y="755.46" width="7.50" height="39.44" fill="#9b9b9b" stroke="#000" stroke-width="1.25" />
<line x1="552.15" y1="790.81" x2="552.15" y2="790.22" stroke="#000" stroke-width="1.3" stroke-linecap="butt"/>
<line x1="549.75" y1="790.22" x2="554.55" y2="790.22" stroke="#000" stroke-width="1.3" stroke-linecap="butt"/>
<rect x="548.40" y="791.11" width="7.50" height="3.79" fill="#d4d4d4" stroke="#000" stroke-width="1.25" />
<rect x="560.20" y="756.34" width="7.50" height="38.56" fill="#fff" stroke="#000" stroke-width="1.25" />
<line x1="354.10" y1="648.05" x2="354.10" y2="795.65" stroke="#000" stroke-width="1.5" stroke-linecap="butt"/>
<line x1="353.35" y1="794.90" x2="575.10" y2="794.90" stroke="#000" stroke-width="1.5" stroke-linecap="butt"/>
<line x1="350.10" y1="794.90" x2="354.10" y2="794.90" stroke="#000" stroke-width="1.5" stroke-linecap="butt"/>
<text transform="translate(348.60,798.48) scale(1.06,1)" font-size="10" font-weight="bold" text-anchor="end" fill="#000" >0.0</text>
<line x1="350.10" y1="765.68" x2="354.10" y2="765.68" stroke="#000" stroke-width="1.5" stroke-linecap="butt"/>
<text transform="translate(348.60,769.26) scale(1.06,1)" font-size="10" font-weight="bold" text-anchor="end" fill="#000" >0.5</text>
<line x1="350.10" y1="736.46" x2="354.10" y2="736.46" stroke="#000" stroke-width="1.5" stroke-linecap="butt"/>
<text transform="translate(348.60,740.04) scale(1.06,1)" font-size="10" font-weight="bold" text-anchor="end" fill="#000" >1.0</text>
<line x1="350.10" y1="707.24" x2="354.10" y2="707.24" stroke="#000" stroke-width="1.5" stroke-linecap="butt"/>
<text transform="translate(348.60,710.82) scale(1.06,1)" font-size="10" font-weight="bold" text-anchor="end" fill="#000" >1.5</text>
<line x1="350.10" y1="678.02" x2="354.10" y2="678.02" stroke="#000" stroke-width="1.5" stroke-linecap="butt"/>
<text transform="translate(348.60,681.60) scale(1.06,1)" font-size="10" font-weight="bold" text-anchor="end" fill="#000" >2.0</text>
<line x1="350.10" y1="648.80" x2="354.10" y2="648.80" stroke="#000" stroke-width="1.5" stroke-linecap="butt"/>
<text transform="translate(348.60,652.38) scale(1.06,1)" font-size="10" font-weight="bold" text-anchor="end" fill="#000" >2.5</text>
<line x1="381.50" y1="794.90" x2="381.50" y2="799.40" stroke="#000" stroke-width="1.5" stroke-linecap="butt"/>
<line x1="436.50" y1="794.90" x2="436.50" y2="799.40" stroke="#000" stroke-width="1.5" stroke-linecap="butt"/>
<line x1="491.40" y1="794.90" x2="491.40" y2="799.40" stroke="#000" stroke-width="1.5" stroke-linecap="butt"/>
<line x1="546.30" y1="794.90" x2="546.30" y2="799.40" stroke="#000" stroke-width="1.5" stroke-linecap="butt"/>
<text transform="translate(382.30,814.72) scale(1.04,1)" font-size="11.5" font-weight="bold" text-anchor="middle" fill="#000" >0</text>
<text transform="translate(435.80,816.02) scale(1.04,1)" font-size="11.5" font-weight="bold" text-anchor="middle" fill="#000" >1</text>
<text transform="translate(490.40,816.02) scale(1.04,1)" font-size="11.5" font-weight="bold" text-anchor="middle" fill="#000" >5</text>
<text transform="translate(545.60,816.02) scale(1.04,1)" font-size="11.5" font-weight="bold" text-anchor="middle" fill="#000" >10</text>
<line x1="361.70" y1="821.60" x2="565.80" y2="821.60" stroke="#000" stroke-width="1.2" stroke-linecap="butt"/>
<text transform="translate(458.70,840.02) scale(1.06,1)" font-size="11.5" font-weight="bold" text-anchor="middle" fill="#000" >1 (μM)</text>
<text transform="translate(326.18,721.80) rotate(-90)" font-size="12.5" font-weight="normal" text-anchor="middle" fill="#000" stroke="#000" stroke-width="0.25" textLength="89.5" lengthAdjust="spacingAndGlyphs">Relative density</text>
<rect x="442.00" y="601.00" width="16.00" height="5.80" fill="#000" stroke="#000" stroke-width="1.2" />
<text transform="translate(466.30,607.16)" font-size="9.1" font-weight="bold" text-anchor="start" fill="#000" textLength="100.9" lengthAdjust="spacing">Cleaved-PARP/β-actin</text>
<rect x="442.00" y="614.10" width="16.00" height="5.80" fill="#9b9b9b" stroke="#000" stroke-width="1.2" />
<text transform="translate(466.30,620.26)" font-size="9.1" font-weight="bold" text-anchor="start" fill="#000" textLength="56.3" lengthAdjust="spacing">Bcl-2/β-actin</text>
<rect x="442.00" y="625.50" width="16.00" height="5.80" fill="#d4d4d4" stroke="#000" stroke-width="1.2" />
<text transform="translate(466.30,631.66)" font-size="9.1" font-weight="bold" text-anchor="start" fill="#000" textLength="60.1" lengthAdjust="spacing">Bcl-xl/β-actin</text>
<rect x="442.00" y="637.10" width="16.00" height="5.80" fill="#fff" stroke="#000" stroke-width="1.2" />
<text transform="translate(466.30,643.26)" font-size="9.1" font-weight="bold" text-anchor="start" fill="#000" textLength="69.4" lengthAdjust="spacing">survivin/β-actin</text>
<line x1="363.70" y1="1051.77" x2="363.70" y2="1051.40" stroke="#000" stroke-width="1.3" stroke-linecap="butt"/>
<line x1="361.30" y1="1051.40" x2="366.10" y2="1051.40" stroke="#000" stroke-width="1.3" stroke-linecap="butt"/>
<rect x="360.00" y="1052.07" width="7.40" height="3.33" fill="#000" stroke="#000" stroke-width="1.25" />
<rect x="371.80" y="1052.07" width="7.40" height="3.33" fill="#9b9b9b" stroke="#000" stroke-width="1.25" />
<line x1="387.30" y1="1052.13" x2="387.30" y2="1051.77" stroke="#000" stroke-width="1.3" stroke-linecap="butt"/>
<line x1="384.90" y1="1051.77" x2="389.70" y2="1051.77" stroke="#000" stroke-width="1.3" stroke-linecap="butt"/>
<rect x="383.60" y="1052.43" width="7.40" height="2.97" fill="#d4d4d4" stroke="#000" stroke-width="1.25" />
<line x1="399.10" y1="1052.13" x2="399.10" y2="1051.77" stroke="#000" stroke-width="1.3" stroke-linecap="butt"/>
<line x1="396.70" y1="1051.77" x2="401.50" y2="1051.77" stroke="#000" stroke-width="1.3" stroke-linecap="butt"/>
<rect x="395.40" y="1052.43" width="7.40" height="2.97" fill="#fff" stroke="#000" stroke-width="1.25" />
<line x1="418.30" y1="1050.68" x2="418.30" y2="1050.13" stroke="#000" stroke-width="1.3" stroke-linecap="butt"/>
<line x1="415.90" y1="1050.13" x2="420.70" y2="1050.13" stroke="#000" stroke-width="1.3" stroke-linecap="butt"/>
<rect x="414.60" y="1050.98" width="7.40" height="4.42" fill="#000" stroke="#000" stroke-width="1.25" />
<line x1="430.10" y1="1051.77" x2="430.10" y2="1051.40" stroke="#000" stroke-width="1.3" stroke-linecap="butt"/>
<line x1="427.70" y1="1051.40" x2="432.50" y2="1051.40" stroke="#000" stroke-width="1.3" stroke-linecap="butt"/>
<rect x="426.40" y="1052.07" width="7.40" height="3.33" fill="#9b9b9b" stroke="#000" stroke-width="1.25" />
<rect x="438.20" y="1052.43" width="7.40" height="2.97" fill="#d4d4d4" stroke="#000" stroke-width="1.25" />
<rect x="450.00" y="1052.43" width="7.40" height="2.97" fill="#fff" stroke="#000" stroke-width="1.25" />
<line x1="472.90" y1="1048.13" x2="472.90" y2="1047.41" stroke="#000" stroke-width="1.3" stroke-linecap="butt"/>
<line x1="470.50" y1="1047.41" x2="475.30" y2="1047.41" stroke="#000" stroke-width="1.3" stroke-linecap="butt"/>
<rect x="469.20" y="1048.43" width="7.40" height="6.97" fill="#000" stroke="#000" stroke-width="1.25" />
<rect x="481.00" y="1053.52" width="7.40" height="1.88" fill="#9b9b9b" stroke="#000" stroke-width="1.25" />
<rect x="492.80" y="1053.16" width="7.40" height="2.24" fill="#d4d4d4" stroke="#000" stroke-width="1.25" />
<rect x="504.60" y="1053.16" width="7.40" height="2.24" fill="#fff" stroke="#000" stroke-width="1.25" />
<line x1="527.90" y1="933.35" x2="527.90" y2="932.08" stroke="#000" stroke-width="1.3" stroke-linecap="butt"/>
<line x1="525.50" y1="932.08" x2="530.30" y2="932.08" stroke="#000" stroke-width="1.3" stroke-linecap="butt"/>
<rect x="524.20" y="933.65" width="7.40" height="121.75" fill="#000" stroke="#000" stroke-width="1.25" />
<line x1="539.70" y1="1054.31" x2="539.70" y2="1053.95" stroke="#000" stroke-width="1.3" stroke-linecap="butt"/>
<line x1="537.30" y1="1053.95" x2="542.10" y2="1053.95" stroke="#000" stroke-width="1.3" stroke-linecap="butt"/>
<rect x="536.00" y="1054.61" width="7.40" height="0.79" fill="#9b9b9b" stroke="#000" stroke-width="1.25" />
<rect x="547.80" y="1055.34" width="7.40" height="0.06" fill="#d4d4d4" stroke="#000" stroke-width="1.25" />
<rect x="559.60" y="1053.52" width="7.40" height="1.88" fill="#fff" stroke="#000" stroke-width="1.25" />
<line x1="353.40" y1="909.35" x2="353.40" y2="1056.15" stroke="#000" stroke-width="1.5" stroke-linecap="butt"/>
<line x1="352.65" y1="1055.40" x2="574.70" y2="1055.40" stroke="#000" stroke-width="1.5" stroke-linecap="butt"/>
<line x1="349.40" y1="1055.40" x2="353.40" y2="1055.40" stroke="#000" stroke-width="1.5" stroke-linecap="butt"/>
<text transform="translate(347.90,1058.98) scale(1.06,1)" font-size="10" font-weight="bold" text-anchor="end" fill="#000" >0</text>
<line x1="349.40" y1="1019.08" x2="353.40" y2="1019.08" stroke="#000" stroke-width="1.5" stroke-linecap="butt"/>
<text transform="translate(347.90,1022.66) scale(1.06,1)" font-size="10" font-weight="bold" text-anchor="end" fill="#000" >10</text>
<line x1="349.40" y1="982.75" x2="353.40" y2="982.75" stroke="#000" stroke-width="1.5" stroke-linecap="butt"/>
<text transform="translate(347.90,986.33) scale(1.06,1)" font-size="10" font-weight="bold" text-anchor="end" fill="#000" >20</text>
<line x1="349.40" y1="946.43" x2="353.40" y2="946.43" stroke="#000" stroke-width="1.5" stroke-linecap="butt"/>
<text transform="translate(347.90,950.01) scale(1.06,1)" font-size="10" font-weight="bold" text-anchor="end" fill="#000" >30</text>
<line x1="349.40" y1="910.10" x2="353.40" y2="910.10" stroke="#000" stroke-width="1.5" stroke-linecap="butt"/>
<text transform="translate(347.90,913.68) scale(1.06,1)" font-size="10" font-weight="bold" text-anchor="end" fill="#000" >40</text>
<line x1="381.20" y1="1055.40" x2="381.20" y2="1059.90" stroke="#000" stroke-width="1.5" stroke-linecap="butt"/>
<line x1="435.60" y1="1055.40" x2="435.60" y2="1059.90" stroke="#000" stroke-width="1.5" stroke-linecap="butt"/>
<line x1="489.50" y1="1055.40" x2="489.50" y2="1059.90" stroke="#000" stroke-width="1.5" stroke-linecap="butt"/>
<line x1="545.40" y1="1055.40" x2="545.40" y2="1059.90" stroke="#000" stroke-width="1.5" stroke-linecap="butt"/>
<text transform="translate(381.20,1073.02) scale(1.04,1)" font-size="11.5" font-weight="bold" text-anchor="middle" fill="#000" >0</text>
<text transform="translate(435.60,1074.32) scale(1.04,1)" font-size="11.5" font-weight="bold" text-anchor="middle" fill="#000" >1</text>
<text transform="translate(489.50,1074.32) scale(1.04,1)" font-size="11.5" font-weight="bold" text-anchor="middle" fill="#000" >5</text>
<text transform="translate(545.40,1074.32) scale(1.04,1)" font-size="11.5" font-weight="bold" text-anchor="middle" fill="#000" >10</text>
<line x1="362.30" y1="1080.60" x2="565.80" y2="1080.60" stroke="#000" stroke-width="1.2" stroke-linecap="butt"/>
<text transform="translate(458.70,1099.72) scale(1.06,1)" font-size="11.5" font-weight="bold" text-anchor="middle" fill="#000" >2 (μM)</text>
<text transform="translate(328.88,982.70) rotate(-90)" font-size="12.5" font-weight="normal" text-anchor="middle" fill="#000" stroke="#000" stroke-width="0.25" textLength="88.5" lengthAdjust="spacingAndGlyphs">Relative density</text>
<rect x="438.60" y="875.80" width="15.90" height="5.80" fill="#000" stroke="#000" stroke-width="1.2" />
<text transform="translate(463.20,881.96)" font-size="9.1" font-weight="bold" text-anchor="start" fill="#000" textLength="101.5" lengthAdjust="spacing">Cleaved-PARP/β-actin</text>
<rect x="438.60" y="888.40" width="15.90" height="5.80" fill="#9b9b9b" stroke="#000" stroke-width="1.2" />
<text transform="translate(463.20,894.56)" font-size="9.1" font-weight="bold" text-anchor="start" fill="#000" textLength="56.5" lengthAdjust="spacing">Bcl-2/β-actin</text>
<rect x="438.60" y="900.60" width="15.90" height="5.80" fill="#d4d4d4" stroke="#000" stroke-width="1.2" />
<text transform="translate(463.20,906.76)" font-size="9.1" font-weight="bold" text-anchor="start" fill="#000" textLength="60.5" lengthAdjust="spacing">Bcl-xl/β-actin</text>
<rect x="438.60" y="914.10" width="15.90" height="5.80" fill="#fff" stroke="#000" stroke-width="1.2" />
<text transform="translate(463.20,920.26)" font-size="9.1" font-weight="bold" text-anchor="start" fill="#000" textLength="70" lengthAdjust="spacing">survivin/β-actin</text>
<line x1="657.75" y1="113.10" x2="657.75" y2="106.90" stroke="#000" stroke-width="1.1" stroke-linecap="butt"/>
<line x1="653.45" y1="106.90" x2="662.05" y2="106.90" stroke="#222" stroke-width="1.1" stroke-linecap="butt"/>
<rect x="641.85" y="113.65" width="31.80" height="107.65" fill="url(#pdot)" stroke="#000" stroke-width="1.1" />
<rect x="642.30" y="193.17" width="30.90" height="8.66" fill="#000" stroke="none" stroke-width="1.0" fill-opacity="0.35" filter="url(#bl2)"/>
<rect x="642.30" y="159.62" width="30.90" height="7.57" fill="#000" stroke="none" stroke-width="1.0" fill-opacity="0.35" filter="url(#bl2)"/>
<rect x="642.30" y="123.92" width="30.90" height="7.57" fill="#000" stroke="none" stroke-width="1.0" fill-opacity="0.3" filter="url(#bl2)"/>
<line x1="657.75" y1="221.30" x2="657.75" y2="225.80" stroke="#000" stroke-width="1.4" stroke-linecap="butt"/>
<line x1="705.80" y1="123.24" x2="705.80" y2="119.50" stroke="#000" stroke-width="1.1" stroke-linecap="butt"/>
<line x1="701.50" y1="119.50" x2="710.10" y2="119.50" stroke="#222" stroke-width="1.1" stroke-linecap="butt"/>
<rect x="689.95" y="123.79" width="31.70" height="97.51" fill="url(#pchk)" stroke="#000" stroke-width="1.1" />
<line x1="705.80" y1="221.30" x2="705.80" y2="225.80" stroke="#000" stroke-width="1.4" stroke-linecap="butt"/>
<line x1="753.55" y1="130.00" x2="753.55" y2="129.10" stroke="#000" stroke-width="1.1" stroke-linecap="butt"/>
<line x1="749.25" y1="129.10" x2="757.85" y2="129.10" stroke="#222" stroke-width="1.1" stroke-linecap="butt"/>
<rect x="737.95" y="130.55" width="31.20" height="90.75" fill="url(#phl)" stroke="#000" stroke-width="1.1" />
<line x1="753.55" y1="221.30" x2="753.55" y2="225.80" stroke="#000" stroke-width="1.4" stroke-linecap="butt"/>
<line x1="801.55" y1="151.14" x2="801.55" y2="150.20" stroke="#000" stroke-width="1.1" stroke-linecap="butt"/>
<line x1="797.25" y1="150.20" x2="805.85" y2="150.20" stroke="#222" stroke-width="1.1" stroke-linecap="butt"/>
<rect x="785.95" y="151.69" width="31.20" height="69.61" fill="url(#pvl)" stroke="#000" stroke-width="1.1" />
<line x1="801.55" y1="221.30" x2="801.55" y2="225.80" stroke="#000" stroke-width="1.4" stroke-linecap="butt"/>
<line x1="633.30" y1="93.80" x2="633.30" y2="222.00" stroke="#111" stroke-width="1.4" stroke-linecap="butt"/>
<line x1="632.60" y1="221.30" x2="825.20" y2="221.30" stroke="#111" stroke-width="1.4" stroke-linecap="butt"/>
<line x1="629.30" y1="221.30" x2="633.30" y2="221.30" stroke="#111" stroke-width="1.4" stroke-linecap="butt"/>
<text transform="translate(628.30,224.95) scale(0.96,1)" font-size="10.2" font-weight="bold" text-anchor="end" fill="#111" >0</text>
<line x1="629.30" y1="179.03" x2="633.30" y2="179.03" stroke="#111" stroke-width="1.4" stroke-linecap="butt"/>
<text transform="translate(628.30,182.68) scale(0.96,1)" font-size="10.2" font-weight="bold" text-anchor="end" fill="#111" >5</text>
<line x1="629.30" y1="136.77" x2="633.30" y2="136.77" stroke="#111" stroke-width="1.4" stroke-linecap="butt"/>
<text transform="translate(628.30,140.42) scale(0.96,1)" font-size="10.2" font-weight="bold" text-anchor="end" fill="#111" >10</text>
<line x1="629.30" y1="94.50" x2="633.30" y2="94.50" stroke="#111" stroke-width="1.4" stroke-linecap="butt"/>
<text transform="translate(628.30,98.15) scale(0.96,1)" font-size="10.2" font-weight="bold" text-anchor="end" fill="#111" >15</text>
<text transform="translate(657.60,241.72) scale(1.06,1)" font-size="11.5" font-weight="bold" text-anchor="middle" fill="#111" >0</text>
<text transform="translate(705.60,241.72) scale(1.06,1)" font-size="11.5" font-weight="bold" text-anchor="middle" fill="#111" >1</text>
<text transform="translate(753.50,241.72) scale(1.06,1)" font-size="11.5" font-weight="bold" text-anchor="middle" fill="#111" >5</text>
<text transform="translate(801.50,241.72) scale(1.06,1)" font-size="11.5" font-weight="bold" text-anchor="middle" fill="#111" >10</text>
<line x1="648.00" y1="248.90" x2="815.00" y2="248.90" stroke="#000" stroke-width="1.4" stroke-linecap="butt"/>
<text transform="translate(732.80,267.12) scale(1.06,1)" font-size="11.5" font-weight="bold" text-anchor="middle" fill="#111" >1 (μM)</text>
<text transform="translate(612.49,157.90) rotate(-90)" font-size="10.6" font-weight="normal" text-anchor="middle" fill="#111" stroke="#111" stroke-width="0.25" textLength="98.8" lengthAdjust="spacing">JC-1 red/green ratio</text>
<text transform="translate(729.20,80.85) scale(1.06,1)" font-size="13" font-weight="bold" text-anchor="middle" fill="#111" >A549</text>
<text transform="translate(753.00,127.64)" font-size="12" font-weight="bold" text-anchor="middle" fill="#222" >*</text>
<text transform="translate(800.90,149.84)" font-size="12" font-weight="bold" text-anchor="middle" fill="#222" >*</text>
<line x1="915.80" y1="159.25" x2="915.80" y2="156.40" stroke="#000" stroke-width="1.1" stroke-linecap="butt"/>
<line x1="911.50" y1="156.40" x2="920.10" y2="156.40" stroke="#222" stroke-width="1.1" stroke-linecap="butt"/>
<rect x="898.75" y="159.80" width="34.10" height="62.40" fill="url(#pdot)" stroke="#000" stroke-width="1.1" />
<rect x="899.20" y="185.69" width="33.20" height="6.92" fill="#000" stroke="none" stroke-width="1.0" fill-opacity="0.45" filter="url(#bl2)"/>
<line x1="915.80" y1="222.20" x2="915.80" y2="226.70" stroke="#000" stroke-width="1.4" stroke-linecap="butt"/>
<line x1="966.25" y1="137.41" x2="966.25" y2="136.20" stroke="#000" stroke-width="1.1" stroke-linecap="butt"/>
<line x1="961.95" y1="136.20" x2="970.55" y2="136.20" stroke="#222" stroke-width="1.1" stroke-linecap="butt"/>
<rect x="949.65" y="137.96" width="33.20" height="84.24" fill="url(#pchk)" stroke="#000" stroke-width="1.1" />
<line x1="966.25" y1="222.20" x2="966.25" y2="226.70" stroke="#000" stroke-width="1.4" stroke-linecap="butt"/>
<line x1="1016.90" y1="129.41" x2="1016.90" y2="128.70" stroke="#000" stroke-width="1.1" stroke-linecap="butt"/>
<line x1="1012.60" y1="128.70" x2="1021.20" y2="128.70" stroke="#222" stroke-width="1.1" stroke-linecap="butt"/>
<rect x="1000.45" y="129.96" width="32.90" height="92.24" fill="url(#phl)" stroke="#000" stroke-width="1.1" />
<line x1="1016.90" y1="222.20" x2="1016.90" y2="226.70" stroke="#000" stroke-width="1.4" stroke-linecap="butt"/>
<line x1="1067.50" y1="112.23" x2="1067.50" y2="110.60" stroke="#000" stroke-width="1.1" stroke-linecap="butt"/>
<line x1="1063.20" y1="110.60" x2="1071.80" y2="110.60" stroke="#222" stroke-width="1.1" stroke-linecap="butt"/>
<rect x="1050.65" y="112.78" width="33.70" height="109.42" fill="url(#pvl)" stroke="#000" stroke-width="1.1" />
<line x1="1067.50" y1="222.20" x2="1067.50" y2="226.70" stroke="#000" stroke-width="1.4" stroke-linecap="butt"/>
<line x1="890.30" y1="95.60" x2="890.30" y2="222.90" stroke="#111" stroke-width="1.4" stroke-linecap="butt"/>
<line x1="889.60" y1="222.20" x2="1092.00" y2="222.20" stroke="#111" stroke-width="1.4" stroke-linecap="butt"/>
<line x1="886.30" y1="222.20" x2="890.30" y2="222.20" stroke="#111" stroke-width="1.4" stroke-linecap="butt"/>
<text transform="translate(885.30,225.85) scale(0.96,1)" font-size="10.2" font-weight="bold" text-anchor="end" fill="#111" >0</text>
<line x1="886.30" y1="190.72" x2="890.30" y2="190.72" stroke="#111" stroke-width="1.4" stroke-linecap="butt"/>
<text transform="translate(885.30,194.38) scale(0.96,1)" font-size="10.2" font-weight="bold" text-anchor="end" fill="#111" >50</text>
<line x1="886.30" y1="159.25" x2="890.30" y2="159.25" stroke="#111" stroke-width="1.4" stroke-linecap="butt"/>
<text transform="translate(885.30,162.90) scale(0.96,1)" font-size="10.2" font-weight="bold" text-anchor="end" fill="#111" >100</text>
<line x1="886.30" y1="127.77" x2="890.30" y2="127.77" stroke="#111" stroke-width="1.4" stroke-linecap="butt"/>
<text transform="translate(885.30,131.43) scale(0.96,1)" font-size="10.2" font-weight="bold" text-anchor="end" fill="#111" >150</text>
<line x1="886.30" y1="96.30" x2="890.30" y2="96.30" stroke="#111" stroke-width="1.4" stroke-linecap="butt"/>
<text transform="translate(885.30,99.95) scale(0.96,1)" font-size="10.2" font-weight="bold" text-anchor="end" fill="#111" >200</text>
<text transform="translate(915.80,243.12) scale(1.06,1)" font-size="11.5" font-weight="bold" text-anchor="middle" fill="#111" >0</text>
<text transform="translate(966.20,243.12) scale(1.06,1)" font-size="11.5" font-weight="bold" text-anchor="middle" fill="#111" >1</text>
<text transform="translate(1016.90,243.12) scale(1.06,1)" font-size="11.5" font-weight="bold" text-anchor="middle" fill="#111" >5</text>
<text transform="translate(1067.50,243.12) scale(1.06,1)" font-size="11.5" font-weight="bold" text-anchor="middle" fill="#111" >10</text>
<line x1="905.90" y1="249.20" x2="1081.40" y2="249.20" stroke="#777" stroke-width="1.3" stroke-linecap="butt"/>
<text transform="translate(986.00,267.42) scale(1.06,1)" font-size="11.5" font-weight="bold" text-anchor="middle" fill="#111" >1 (μM)</text>
<text transform="translate(861.99,158.80) rotate(-90)" font-size="10.6" font-weight="normal" text-anchor="middle" fill="#111" stroke="#111" stroke-width="0.3" textLength="162" lengthAdjust="spacing">Relative caspase 3/7 activity  (% )</text>
<text transform="translate(983.40,80.05) scale(1.06,1)" font-size="13" font-weight="bold" text-anchor="middle" fill="#111" >A549</text>
<text transform="translate(965.90,134.94)" font-size="12" font-weight="bold" text-anchor="middle" fill="#222" >***</text>
<text transform="translate(1016.40,127.84)" font-size="12" font-weight="bold" text-anchor="middle" fill="#222" >***</text>
<text transform="translate(1066.90,110.74)" font-size="12" font-weight="bold" text-anchor="middle" fill="#222" >***</text>
<line x1="659.75" y1="373.54" x2="659.75" y2="366.90" stroke="#000" stroke-width="1.1" stroke-linecap="butt"/>
<line x1="655.45" y1="366.90" x2="664.05" y2="366.90" stroke="#222" stroke-width="1.1" stroke-linecap="butt"/>
<rect x="643.95" y="374.09" width="31.60" height="107.91" fill="url(#pdot)" stroke="#000" stroke-width="1.1" />
<rect x="644.40" y="455.97" width="30.70" height="6.51" fill="#000" stroke="none" stroke-width="1.0" fill-opacity="0.4" filter="url(#bl2)"/>
<rect x="644.40" y="420.18" width="30.70" height="6.51" fill="#000" stroke="none" stroke-width="1.0" fill-opacity="0.4" filter="url(#bl2)"/>
<rect x="644.40" y="384.39" width="30.70" height="6.51" fill="#000" stroke="none" stroke-width="1.0" fill-opacity="0.4" filter="url(#bl2)"/>
<line x1="659.75" y1="482.00" x2="659.75" y2="486.50" stroke="#000" stroke-width="1.4" stroke-linecap="butt"/>
<line x1="707.60" y1="392.61" x2="707.60" y2="388.40" stroke="#000" stroke-width="1.1" stroke-linecap="butt"/>
<line x1="703.30" y1="388.40" x2="711.90" y2="388.40" stroke="#222" stroke-width="1.1" stroke-linecap="butt"/>
<rect x="691.65" y="393.16" width="31.90" height="88.84" fill="url(#pchk)" stroke="#000" stroke-width="1.1" />
<line x1="707.60" y1="482.00" x2="707.60" y2="486.50" stroke="#000" stroke-width="1.4" stroke-linecap="butt"/>
<line x1="755.70" y1="414.21" x2="755.70" y2="412.30" stroke="#000" stroke-width="1.1" stroke-linecap="butt"/>
<line x1="751.40" y1="412.30" x2="760.00" y2="412.30" stroke="#222" stroke-width="1.1" stroke-linecap="butt"/>
<rect x="739.85" y="414.76" width="31.70" height="67.24" fill="url(#phl)" stroke="#000" stroke-width="1.1" />
<line x1="755.70" y1="482.00" x2="755.70" y2="486.50" stroke="#000" stroke-width="1.4" stroke-linecap="butt"/>
<line x1="803.75" y1="424.38" x2="803.75" y2="423.50" stroke="#000" stroke-width="1.1" stroke-linecap="butt"/>
<line x1="799.45" y1="423.50" x2="808.05" y2="423.50" stroke="#222" stroke-width="1.1" stroke-linecap="butt"/>
<rect x="787.55" y="424.93" width="32.40" height="57.07" fill="url(#pvl)" stroke="#000" stroke-width="1.1" />
<line x1="803.75" y1="482.00" x2="803.75" y2="486.50" stroke="#000" stroke-width="1.4" stroke-linecap="butt"/>
<line x1="635.80" y1="354.20" x2="635.80" y2="482.70" stroke="#111" stroke-width="1.4" stroke-linecap="butt"/>
<line x1="635.10" y1="482.00" x2="827.50" y2="482.00" stroke="#111" stroke-width="1.4" stroke-linecap="butt"/>
<line x1="631.80" y1="482.00" x2="635.80" y2="482.00" stroke="#111" stroke-width="1.4" stroke-linecap="butt"/>
<text transform="translate(630.80,485.65) scale(0.96,1)" font-size="10.2" font-weight="bold" text-anchor="end" fill="#111" >0</text>
<line x1="631.80" y1="439.63" x2="635.80" y2="439.63" stroke="#111" stroke-width="1.4" stroke-linecap="butt"/>
<text transform="translate(630.80,443.28) scale(0.96,1)" font-size="10.2" font-weight="bold" text-anchor="end" fill="#111" >5</text>
<line x1="631.80" y1="397.27" x2="635.80" y2="397.27" stroke="#111" stroke-width="1.4" stroke-linecap="butt"/>
<text transform="translate(630.80,400.92) scale(0.96,1)" font-size="10.2" font-weight="bold" text-anchor="end" fill="#111" >10</text>
<line x1="631.80" y1="354.90" x2="635.80" y2="354.90" stroke="#111" stroke-width="1.4" stroke-linecap="butt"/>
<text transform="translate(630.80,358.55) scale(0.96,1)" font-size="10.2" font-weight="bold" text-anchor="end" fill="#111" >15</text>
<text transform="translate(659.50,502.52) scale(1.06,1)" font-size="11.5" font-weight="bold" text-anchor="middle" fill="#111" >0</text>
<text transform="translate(707.50,502.52) scale(1.06,1)" font-size="11.5" font-weight="bold" text-anchor="middle" fill="#111" >1</text>
<text transform="translate(755.50,502.52) scale(1.06,1)" font-size="11.5" font-weight="bold" text-anchor="middle" fill="#111" >5</text>
<text transform="translate(804.10,502.52) scale(1.06,1)" font-size="11.5" font-weight="bold" text-anchor="middle" fill="#111" >10</text>
<line x1="650.40" y1="508.50" x2="817.50" y2="508.50" stroke="#444" stroke-width="1.3" stroke-linecap="butt"/>
<text transform="translate(731.60,525.92) scale(1.06,1)" font-size="11.5" font-weight="bold" text-anchor="middle" fill="#111" >2 (μM)</text>
<text transform="translate(614.39,418.20) rotate(-90)" font-size="10.6" font-weight="normal" text-anchor="middle" fill="#111" stroke="#111" stroke-width="0.25" textLength="99.5" lengthAdjust="spacing">JC-1 red/green ratio</text>
<text transform="translate(706.60,387.64)" font-size="12" font-weight="bold" text-anchor="middle" fill="#222" >*</text>
<text transform="translate(755.10,411.74)" font-size="12" font-weight="bold" text-anchor="middle" fill="#222" >*</text>
<text transform="translate(801.90,423.94)" font-size="12" font-weight="bold" text-anchor="middle" fill="#222" >*</text>
<line x1="912.50" y1="421.45" x2="912.50" y2="418.80" stroke="#000" stroke-width="1.1" stroke-linecap="butt"/>
<line x1="908.20" y1="418.80" x2="916.80" y2="418.80" stroke="#222" stroke-width="1.1" stroke-linecap="butt"/>
<rect x="895.65" y="422.00" width="33.70" height="62.30" fill="url(#pdot)" stroke="#000" stroke-width="1.1" />
<rect x="896.10" y="447.85" width="32.80" height="7.54" fill="#000" stroke="none" stroke-width="1.0" fill-opacity="0.45" filter="url(#bl2)"/>
<line x1="912.50" y1="484.30" x2="912.50" y2="488.80" stroke="#000" stroke-width="1.7" stroke-linecap="butt"/>
<line x1="963.35" y1="399.70" x2="963.35" y2="398.60" stroke="#000" stroke-width="1.1" stroke-linecap="butt"/>
<line x1="959.05" y1="398.60" x2="967.65" y2="398.60" stroke="#222" stroke-width="1.1" stroke-linecap="butt"/>
<rect x="946.85" y="400.25" width="33.00" height="84.05" fill="url(#pchk)" stroke="#000" stroke-width="1.1" />
<line x1="963.35" y1="484.30" x2="963.35" y2="488.80" stroke="#000" stroke-width="1.7" stroke-linecap="butt"/>
<line x1="1013.85" y1="391.72" x2="1013.85" y2="391.00" stroke="#000" stroke-width="1.1" stroke-linecap="butt"/>
<line x1="1009.55" y1="391.00" x2="1018.15" y2="391.00" stroke="#222" stroke-width="1.1" stroke-linecap="butt"/>
<rect x="997.35" y="392.27" width="33.00" height="92.03" fill="url(#phl)" stroke="#000" stroke-width="1.1" />
<line x1="1013.85" y1="484.30" x2="1013.85" y2="488.80" stroke="#000" stroke-width="1.7" stroke-linecap="butt"/>
<line x1="1064.70" y1="374.63" x2="1064.70" y2="373.00" stroke="#000" stroke-width="1.1" stroke-linecap="butt"/>
<line x1="1060.40" y1="373.00" x2="1069.00" y2="373.00" stroke="#222" stroke-width="1.1" stroke-linecap="butt"/>
<rect x="1047.85" y="375.18" width="33.70" height="109.12" fill="url(#pvl)" stroke="#000" stroke-width="1.1" />
<line x1="1064.70" y1="484.30" x2="1064.70" y2="488.80" stroke="#000" stroke-width="1.7" stroke-linecap="butt"/>
<line x1="887.10" y1="357.75" x2="887.10" y2="485.15" stroke="#111" stroke-width="1.7" stroke-linecap="butt"/>
<line x1="886.25" y1="484.30" x2="1089.60" y2="484.30" stroke="#111" stroke-width="1.7" stroke-linecap="butt"/>
<line x1="883.10" y1="484.30" x2="887.10" y2="484.30" stroke="#111" stroke-width="1.7" stroke-linecap="butt"/>
<text transform="translate(882.10,487.95) scale(0.96,1)" font-size="10.2" font-weight="bold" text-anchor="end" fill="#111" >0</text>
<line x1="883.10" y1="452.88" x2="887.10" y2="452.88" stroke="#111" stroke-width="1.7" stroke-linecap="butt"/>
<text transform="translate(882.10,456.53) scale(0.96,1)" font-size="10.2" font-weight="bold" text-anchor="end" fill="#111" >50</text>
<line x1="883.10" y1="421.45" x2="887.10" y2="421.45" stroke="#111" stroke-width="1.7" stroke-linecap="butt"/>
<text transform="translate(882.10,425.10) scale(0.96,1)" font-size="10.2" font-weight="bold" text-anchor="end" fill="#111" >100</text>
<line x1="883.10" y1="390.03" x2="887.10" y2="390.03" stroke="#111" stroke-width="1.7" stroke-linecap="butt"/>
<text transform="translate(882.10,393.68) scale(0.96,1)" font-size="10.2" font-weight="bold" text-anchor="end" fill="#111" >150</text>
<line x1="883.10" y1="358.60" x2="887.10" y2="358.60" stroke="#111" stroke-width="1.7" stroke-linecap="butt"/>
<text transform="translate(882.10,362.25) scale(0.96,1)" font-size="10.2" font-weight="bold" text-anchor="end" fill="#111" >200</text>
<text transform="translate(912.20,505.52) scale(1.06,1)" font-size="11.5" font-weight="bold" text-anchor="middle" fill="#111" >0</text>
<text transform="translate(962.80,505.52) scale(1.06,1)" font-size="11.5" font-weight="bold" text-anchor="middle" fill="#111" >1</text>
<text transform="translate(1013.30,505.52) scale(1.06,1)" font-size="11.5" font-weight="bold" text-anchor="middle" fill="#111" >5</text>
<text transform="translate(1063.80,505.52) scale(1.06,1)" font-size="11.5" font-weight="bold" text-anchor="middle" fill="#111" >10</text>
<line x1="907.60" y1="510.10" x2="1078.30" y2="510.10" stroke="#000" stroke-width="2.0" stroke-linecap="butt"/>
<text transform="translate(985.10,526.22) scale(1.06,1)" font-size="11.5" font-weight="bold" text-anchor="middle" fill="#111" >2 (μM)</text>
<text transform="translate(858.99,420.60) rotate(-90)" font-size="10.6" font-weight="normal" text-anchor="middle" fill="#111" stroke="#111" stroke-width="0.3" textLength="160.2" lengthAdjust="spacing">Relative caspase 3/7 activity  (% )</text>
<text transform="translate(962.40,397.74)" font-size="12" font-weight="bold" text-anchor="middle" fill="#222" >***</text>
<text transform="translate(1012.90,391.44)" font-size="12" font-weight="bold" text-anchor="middle" fill="#222" >***</text>
<text transform="translate(1062.90,373.04)" font-size="12" font-weight="bold" text-anchor="middle" fill="#222" >***</text>
<line x1="657.85" y1="686.77" x2="657.85" y2="679.50" stroke="#000" stroke-width="1.1" stroke-linecap="butt"/>
<line x1="653.55" y1="679.50" x2="662.15" y2="679.50" stroke="#222" stroke-width="1.1" stroke-linecap="butt"/>
<rect x="642.05" y="687.32" width="31.60" height="107.48" fill="url(#pdot)" stroke="#000" stroke-width="1.1" />
<rect x="642.50" y="755.91" width="30.70" height="8.64" fill="#000" stroke="none" stroke-width="1.0" fill-opacity="0.38" filter="url(#bl2)"/>
<rect x="642.50" y="710.54" width="30.70" height="8.64" fill="#000" stroke="none" stroke-width="1.0" fill-opacity="0.38" filter="url(#bl2)"/>
<line x1="657.85" y1="794.80" x2="657.85" y2="799.30" stroke="#000" stroke-width="1.4" stroke-linecap="butt"/>
<line x1="706.10" y1="696.90" x2="706.10" y2="692.40" stroke="#000" stroke-width="1.1" stroke-linecap="butt"/>
<line x1="701.80" y1="692.40" x2="710.40" y2="692.40" stroke="#222" stroke-width="1.1" stroke-linecap="butt"/>
<rect x="690.05" y="697.45" width="32.10" height="97.35" fill="url(#pchk)" stroke="#000" stroke-width="1.1" />
<line x1="706.10" y1="794.80" x2="706.10" y2="799.30" stroke="#000" stroke-width="1.4" stroke-linecap="butt"/>
<line x1="753.80" y1="739.35" x2="753.80" y2="737.10" stroke="#000" stroke-width="1.1" stroke-linecap="butt"/>
<line x1="749.50" y1="737.10" x2="758.10" y2="737.10" stroke="#222" stroke-width="1.1" stroke-linecap="butt"/>
<rect x="737.95" y="739.90" width="31.70" height="54.90" fill="url(#phl)" stroke="#000" stroke-width="1.1" />
<line x1="753.80" y1="794.80" x2="753.80" y2="799.30" stroke="#000" stroke-width="1.4" stroke-linecap="butt"/>
<line x1="801.80" y1="761.88" x2="801.80" y2="759.10" stroke="#000" stroke-width="1.1" stroke-linecap="butt"/>
<line x1="797.50" y1="759.10" x2="806.10" y2="759.10" stroke="#222" stroke-width="1.1" stroke-linecap="butt"/>
<rect x="785.95" y="762.43" width="31.70" height="32.37" fill="url(#pvl)" stroke="#000" stroke-width="1.1" />
<line x1="801.80" y1="794.80" x2="801.80" y2="799.30" stroke="#000" stroke-width="1.4" stroke-linecap="butt"/>
<line x1="633.70" y1="667.50" x2="633.70" y2="795.50" stroke="#111" stroke-width="1.4" stroke-linecap="butt"/>
<line x1="633.00" y1="794.80" x2="825.90" y2="794.80" stroke="#111" stroke-width="1.4" stroke-linecap="butt"/>
<line x1="629.70" y1="794.80" x2="633.70" y2="794.80" stroke="#111" stroke-width="1.4" stroke-linecap="butt"/>
<text transform="translate(628.70,798.45) scale(0.96,1)" font-size="10.2" font-weight="bold" text-anchor="end" fill="#111" >0</text>
<line x1="629.70" y1="752.60" x2="633.70" y2="752.60" stroke="#111" stroke-width="1.4" stroke-linecap="butt"/>
<text transform="translate(628.70,756.25) scale(0.96,1)" font-size="10.2" font-weight="bold" text-anchor="end" fill="#111" >5</text>
<line x1="629.70" y1="710.40" x2="633.70" y2="710.40" stroke="#111" stroke-width="1.4" stroke-linecap="butt"/>
<text transform="translate(628.70,714.05) scale(0.96,1)" font-size="10.2" font-weight="bold" text-anchor="end" fill="#111" >10</text>
<line x1="629.70" y1="668.20" x2="633.70" y2="668.20" stroke="#111" stroke-width="1.4" stroke-linecap="butt"/>
<text transform="translate(628.70,671.85) scale(0.96,1)" font-size="10.2" font-weight="bold" text-anchor="end" fill="#111" >15</text>
<text transform="translate(657.40,815.82) scale(1.06,1)" font-size="11.5" font-weight="bold" text-anchor="middle" fill="#111" >0</text>
<text transform="translate(705.10,815.82) scale(1.06,1)" font-size="11.5" font-weight="bold" text-anchor="middle" fill="#111" >1</text>
<text transform="translate(753.80,815.82) scale(1.06,1)" font-size="11.5" font-weight="bold" text-anchor="middle" fill="#111" >5</text>
<text transform="translate(801.80,815.82) scale(1.06,1)" font-size="11.5" font-weight="bold" text-anchor="middle" fill="#111" >10</text>
<line x1="648.00" y1="821.80" x2="815.10" y2="821.80" stroke="#333" stroke-width="1.0" stroke-linecap="butt"/>
<text transform="translate(731.60,839.22) scale(1.06,1)" font-size="11.5" font-weight="bold" text-anchor="middle" fill="#111" >1 (μM)</text>
<text transform="translate(612.49,730.90) rotate(-90)" font-size="10.6" font-weight="normal" text-anchor="middle" fill="#111" stroke="#111" stroke-width="0.25" textLength="99" lengthAdjust="spacing">JC-1 red/green ratio</text>
<text transform="translate(731.60,652.55) scale(1.06,1)" font-size="13" font-weight="bold" text-anchor="middle" fill="#111" >HT-29</text>
<text transform="translate(753.00,736.34)" font-size="12" font-weight="bold" text-anchor="middle" fill="#222" >*</text>
<text transform="translate(800.20,757.84)" font-size="12" font-weight="bold" text-anchor="middle" fill="#222" >*</text>
<line x1="914.75" y1="744.42" x2="914.75" y2="742.00" stroke="#000" stroke-width="1.1" stroke-linecap="butt"/>
<line x1="910.45" y1="742.00" x2="919.05" y2="742.00" stroke="#222" stroke-width="1.1" stroke-linecap="butt"/>
<rect x="897.85" y="744.97" width="33.80" height="49.23" fill="url(#pdot)" stroke="#000" stroke-width="1.1" />
<rect x="898.30" y="780.26" width="32.90" height="8.96" fill="#000" stroke="none" stroke-width="1.0" fill-opacity="0.3" filter="url(#bl2)"/>
<rect x="898.30" y="745.92" width="32.90" height="4.48" fill="#000" stroke="none" stroke-width="1.0" fill-opacity="0.3" filter="url(#bl2)"/>
<line x1="914.75" y1="794.20" x2="914.75" y2="798.70" stroke="#000" stroke-width="1.4" stroke-linecap="butt"/>
<line x1="966.15" y1="724.81" x2="966.15" y2="722.10" stroke="#000" stroke-width="1.1" stroke-linecap="butt"/>
<line x1="961.85" y1="722.10" x2="970.45" y2="722.10" stroke="#222" stroke-width="1.1" stroke-linecap="butt"/>
<rect x="949.65" y="725.36" width="33.00" height="68.84" fill="url(#pchk)" stroke="#000" stroke-width="1.1" />
<line x1="966.15" y1="794.20" x2="966.15" y2="798.70" stroke="#000" stroke-width="1.4" stroke-linecap="butt"/>
<line x1="1016.90" y1="710.23" x2="1016.90" y2="709.40" stroke="#000" stroke-width="1.1" stroke-linecap="butt"/>
<line x1="1012.60" y1="709.40" x2="1021.20" y2="709.40" stroke="#222" stroke-width="1.1" stroke-linecap="butt"/>
<rect x="1000.45" y="710.78" width="32.90" height="83.42" fill="url(#phl)" stroke="#000" stroke-width="1.1" />
<line x1="1016.90" y1="794.20" x2="1016.90" y2="798.70" stroke="#000" stroke-width="1.4" stroke-linecap="butt"/>
<line x1="1067.50" y1="693.39" x2="1067.50" y2="691.70" stroke="#000" stroke-width="1.1" stroke-linecap="butt"/>
<line x1="1063.20" y1="691.70" x2="1071.80" y2="691.70" stroke="#222" stroke-width="1.1" stroke-linecap="butt"/>
<rect x="1050.65" y="693.94" width="33.70" height="100.26" fill="url(#pvl)" stroke="#000" stroke-width="1.1" />
<line x1="1067.50" y1="794.20" x2="1067.50" y2="798.70" stroke="#000" stroke-width="1.4" stroke-linecap="butt"/>
<line x1="889.80" y1="667.80" x2="889.80" y2="794.90" stroke="#111" stroke-width="1.4" stroke-linecap="butt"/>
<line x1="889.10" y1="794.20" x2="1092.00" y2="794.20" stroke="#111" stroke-width="1.4" stroke-linecap="butt"/>
<line x1="885.80" y1="794.20" x2="889.80" y2="794.20" stroke="#111" stroke-width="1.4" stroke-linecap="butt"/>
<text transform="translate(884.80,797.85) scale(0.96,1)" font-size="10.2" font-weight="bold" text-anchor="end" fill="#111" >0</text>
<line x1="885.80" y1="769.06" x2="889.80" y2="769.06" stroke="#111" stroke-width="1.4" stroke-linecap="butt"/>
<text transform="translate(884.80,772.71) scale(0.96,1)" font-size="10.2" font-weight="bold" text-anchor="end" fill="#111" >50</text>
<line x1="885.80" y1="743.92" x2="889.80" y2="743.92" stroke="#111" stroke-width="1.4" stroke-linecap="butt"/>
<text transform="translate(884.80,747.57) scale(0.96,1)" font-size="10.2" font-weight="bold" text-anchor="end" fill="#111" >100</text>
<line x1="885.80" y1="718.78" x2="889.80" y2="718.78" stroke="#111" stroke-width="1.4" stroke-linecap="butt"/>
<text transform="translate(884.80,722.43) scale(0.96,1)" font-size="10.2" font-weight="bold" text-anchor="end" fill="#111" >150</text>
<line x1="885.80" y1="693.64" x2="889.80" y2="693.64" stroke="#111" stroke-width="1.4" stroke-linecap="butt"/>
<text transform="translate(884.80,697.29) scale(0.96,1)" font-size="10.2" font-weight="bold" text-anchor="end" fill="#111" >200</text>
<line x1="885.80" y1="668.50" x2="889.80" y2="668.50" stroke="#111" stroke-width="1.4" stroke-linecap="butt"/>
<text transform="translate(884.80,672.15) scale(0.96,1)" font-size="10.2" font-weight="bold" text-anchor="end" fill="#111" >250</text>
<text transform="translate(915.30,816.12) scale(1.06,1)" font-size="11.5" font-weight="bold" text-anchor="middle" fill="#111" >0</text>
<text transform="translate(965.60,816.12) scale(1.06,1)" font-size="11.5" font-weight="bold" text-anchor="middle" fill="#111" >1</text>
<text transform="translate(1016.30,816.12) scale(1.06,1)" font-size="11.5" font-weight="bold" text-anchor="middle" fill="#111" >5</text>
<text transform="translate(1066.60,816.12) scale(1.06,1)" font-size="11.5" font-weight="bold" text-anchor="middle" fill="#111" >10</text>
<line x1="905.90" y1="821.40" x2="1081.40" y2="821.40" stroke="#555" stroke-width="1.0" stroke-linecap="butt"/>
<text transform="translate(985.80,840.12) scale(1.06,1)" font-size="11.5" font-weight="bold" text-anchor="middle" fill="#111" >1 (μM)</text>
<text transform="translate(861.99,730.70) rotate(-90)" font-size="10.6" font-weight="normal" text-anchor="middle" fill="#111" stroke="#111" stroke-width="0.3" textLength="161.5" lengthAdjust="spacing">Relative caspase 3/7 activity  (% )</text>
<text transform="translate(986.20,651.75) scale(1.06,1)" font-size="13" font-weight="bold" text-anchor="middle" fill="#111" >HT-29</text>
<text transform="translate(965.20,720.74)" font-size="12" font-weight="bold" text-anchor="middle" fill="#222" >***</text>
<text transform="translate(1014.70,706.64)" font-size="12" font-weight="bold" text-anchor="middle" fill="#222" >***</text>
<text transform="translate(1065.70,691.44)" font-size="12" font-weight="bold" text-anchor="middle" fill="#222" >***</text>
<line x1="658.10" y1="951.65" x2="658.10" y2="945.10" stroke="#000" stroke-width="1.1" stroke-linecap="butt"/>
<line x1="653.80" y1="945.10" x2="662.40" y2="945.10" stroke="#222" stroke-width="1.1" stroke-linecap="butt"/>
<rect x="643.25" y="952.20" width="29.70" height="103.30" fill="url(#pdot)" stroke="#000" stroke-width="1.1" />
<rect x="643.70" y="1036.81" width="28.80" height="8.31" fill="#000" stroke="none" stroke-width="1.0" fill-opacity="0.35" filter="url(#bl2)"/>
<rect x="643.70" y="993.19" width="28.80" height="8.31" fill="#000" stroke="none" stroke-width="1.0" fill-opacity="0.35" filter="url(#bl2)"/>
<rect x="643.70" y="951.65" width="28.80" height="7.27" fill="#000" stroke="none" stroke-width="1.0" fill-opacity="0.4" filter="url(#bl2)"/>
<line x1="658.10" y1="1055.50" x2="658.10" y2="1060.00" stroke="#000" stroke-width="1.4" stroke-linecap="butt"/>
<line x1="704.60" y1="968.93" x2="704.60" y2="966.60" stroke="#000" stroke-width="1.1" stroke-linecap="butt"/>
<line x1="700.30" y1="966.60" x2="708.90" y2="966.60" stroke="#222" stroke-width="1.1" stroke-linecap="butt"/>
<rect x="689.35" y="969.48" width="30.50" height="86.02" fill="url(#pchk)" stroke="#000" stroke-width="1.1" />
<line x1="704.60" y1="1055.50" x2="704.60" y2="1060.00" stroke="#000" stroke-width="1.4" stroke-linecap="butt"/>
<line x1="751.15" y1="1014.53" x2="751.15" y2="1013.00" stroke="#000" stroke-width="1.1" stroke-linecap="butt"/>
<line x1="746.85" y1="1013.00" x2="755.45" y2="1013.00" stroke="#222" stroke-width="1.1" stroke-linecap="butt"/>
<rect x="736.15" y="1015.08" width="30.00" height="40.42" fill="url(#phl)" stroke="#000" stroke-width="1.1" />
<line x1="751.15" y1="1055.50" x2="751.15" y2="1060.00" stroke="#000" stroke-width="1.4" stroke-linecap="butt"/>
<line x1="797.70" y1="1030.35" x2="797.70" y2="1028.60" stroke="#000" stroke-width="1.1" stroke-linecap="butt"/>
<line x1="793.40" y1="1028.60" x2="802.00" y2="1028.60" stroke="#222" stroke-width="1.1" stroke-linecap="butt"/>
<rect x="782.45" y="1030.90" width="30.50" height="24.60" fill="url(#pvl)" stroke="#000" stroke-width="1.1" />
<line x1="797.70" y1="1055.50" x2="797.70" y2="1060.00" stroke="#000" stroke-width="1.4" stroke-linecap="butt"/>
<line x1="634.60" y1="933.10" x2="634.60" y2="1056.20" stroke="#111" stroke-width="1.4" stroke-linecap="butt"/>
<line x1="633.90" y1="1055.50" x2="821.70" y2="1055.50" stroke="#111" stroke-width="1.4" stroke-linecap="butt"/>
<line x1="630.60" y1="1055.50" x2="634.60" y2="1055.50" stroke="#111" stroke-width="1.4" stroke-linecap="butt"/>
<text transform="translate(629.60,1059.15) scale(0.96,1)" font-size="10.2" font-weight="bold" text-anchor="end" fill="#111" >0</text>
<line x1="630.60" y1="1014.93" x2="634.60" y2="1014.93" stroke="#111" stroke-width="1.4" stroke-linecap="butt"/>
<text transform="translate(629.60,1018.58) scale(0.96,1)" font-size="10.2" font-weight="bold" text-anchor="end" fill="#111" >5</text>
<line x1="630.60" y1="974.37" x2="634.60" y2="974.37" stroke="#111" stroke-width="1.4" stroke-linecap="butt"/>
<text transform="translate(629.60,978.02) scale(0.96,1)" font-size="10.2" font-weight="bold" text-anchor="end" fill="#111" >10</text>
<line x1="630.60" y1="933.80" x2="634.60" y2="933.80" stroke="#111" stroke-width="1.4" stroke-linecap="butt"/>
<text transform="translate(629.60,937.45) scale(0.96,1)" font-size="10.2" font-weight="bold" text-anchor="end" fill="#111" >15</text>
<text transform="translate(657.90,1076.52) scale(1.06,1)" font-size="11.5" font-weight="bold" text-anchor="middle" fill="#111" >0</text>
<text transform="translate(704.00,1076.52) scale(1.06,1)" font-size="11.5" font-weight="bold" text-anchor="middle" fill="#111" >1</text>
<text transform="translate(751.00,1076.52) scale(1.06,1)" font-size="11.5" font-weight="bold" text-anchor="middle" fill="#111" >5</text>
<text transform="translate(797.60,1076.52) scale(1.06,1)" font-size="11.5" font-weight="bold" text-anchor="middle" fill="#111" >10</text>
<text transform="translate(730.40,1097.62) scale(1.06,1)" font-size="11.5" font-weight="bold" text-anchor="middle" fill="#111" >2 (μM)</text>
<text transform="translate(613.69,994.50) rotate(-90)" font-size="10.6" font-weight="normal" text-anchor="middle" fill="#111" stroke="#111" stroke-width="0.25" textLength="96.4" lengthAdjust="spacing">JC-1 red/green ratio</text>
<text transform="translate(703.60,967.44)" font-size="12" font-weight="bold" text-anchor="middle" fill="#222" >*</text>
<text transform="translate(749.90,1013.14)" font-size="12" font-weight="bold" text-anchor="middle" fill="#222" >*</text>
<text transform="translate(796.20,1029.04)" font-size="12" font-weight="bold" text-anchor="middle" fill="#222" >*</text>
<line x1="911.45" y1="1003.82" x2="911.45" y2="1001.70" stroke="#000" stroke-width="1.1" stroke-linecap="butt"/>
<line x1="907.15" y1="1001.70" x2="915.75" y2="1001.70" stroke="#222" stroke-width="1.1" stroke-linecap="butt"/>
<rect x="894.75" y="1004.37" width="33.40" height="49.53" fill="url(#pdot)" stroke="#000" stroke-width="1.1" />
<rect x="895.20" y="1038.88" width="32.50" height="10.02" fill="#000" stroke="none" stroke-width="1.0" fill-opacity="0.3" filter="url(#bl2)"/>
<rect x="895.20" y="1004.82" width="32.50" height="5.01" fill="#000" stroke="none" stroke-width="1.0" fill-opacity="0.3" filter="url(#bl2)"/>
<line x1="911.45" y1="1053.90" x2="911.45" y2="1058.40" stroke="#000" stroke-width="1.4" stroke-linecap="butt"/>
<line x1="962.15" y1="975.93" x2="962.15" y2="975.40" stroke="#000" stroke-width="1.1" stroke-linecap="butt"/>
<line x1="957.85" y1="975.40" x2="966.45" y2="975.40" stroke="#222" stroke-width="1.1" stroke-linecap="butt"/>
<rect x="945.65" y="976.48" width="33.00" height="77.42" fill="url(#pchk)" stroke="#000" stroke-width="1.1" />
<line x1="962.15" y1="1053.90" x2="962.15" y2="1058.40" stroke="#000" stroke-width="1.4" stroke-linecap="butt"/>
<line x1="1012.65" y1="963.00" x2="1012.65" y2="962.30" stroke="#000" stroke-width="1.1" stroke-linecap="butt"/>
<line x1="1008.35" y1="962.30" x2="1016.95" y2="962.30" stroke="#222" stroke-width="1.1" stroke-linecap="butt"/>
<rect x="996.15" y="963.55" width="33.00" height="90.35" fill="url(#phl)" stroke="#000" stroke-width="1.1" />
<line x1="1012.65" y1="1053.90" x2="1012.65" y2="1058.40" stroke="#000" stroke-width="1.4" stroke-linecap="butt"/>
<line x1="1063.40" y1="950.74" x2="1063.40" y2="950.00" stroke="#000" stroke-width="1.1" stroke-linecap="butt"/>
<line x1="1059.10" y1="950.00" x2="1067.70" y2="950.00" stroke="#222" stroke-width="1.1" stroke-linecap="butt"/>
<rect x="1046.65" y="951.29" width="33.50" height="102.61" fill="url(#pvl)" stroke="#000" stroke-width="1.1" />
<line x1="1063.40" y1="1053.90" x2="1063.40" y2="1058.40" stroke="#000" stroke-width="1.4" stroke-linecap="butt"/>
<line x1="886.10" y1="928.00" x2="886.10" y2="1054.60" stroke="#111" stroke-width="1.4" stroke-linecap="butt"/>
<line x1="885.40" y1="1053.90" x2="1089.10" y2="1053.90" stroke="#111" stroke-width="1.4" stroke-linecap="butt"/>
<line x1="882.10" y1="1053.90" x2="886.10" y2="1053.90" stroke="#111" stroke-width="1.4" stroke-linecap="butt"/>
<text transform="translate(881.10,1057.55) scale(0.96,1)" font-size="10.2" font-weight="bold" text-anchor="end" fill="#111" >0</text>
<line x1="882.10" y1="1028.86" x2="886.10" y2="1028.86" stroke="#111" stroke-width="1.4" stroke-linecap="butt"/>
<text transform="translate(881.10,1032.51) scale(0.96,1)" font-size="10.2" font-weight="bold" text-anchor="end" fill="#111" >50</text>
<line x1="882.10" y1="1003.82" x2="886.10" y2="1003.82" stroke="#111" stroke-width="1.4" stroke-linecap="butt"/>
<text transform="translate(881.10,1007.47) scale(0.96,1)" font-size="10.2" font-weight="bold" text-anchor="end" fill="#111" >100</text>
<line x1="882.10" y1="978.78" x2="886.10" y2="978.78" stroke="#111" stroke-width="1.4" stroke-linecap="butt"/>
<text transform="translate(881.10,982.43) scale(0.96,1)" font-size="10.2" font-weight="bold" text-anchor="end" fill="#111" >150</text>
<line x1="882.10" y1="953.74" x2="886.10" y2="953.74" stroke="#111" stroke-width="1.4" stroke-linecap="butt"/>
<text transform="translate(881.10,957.39) scale(0.96,1)" font-size="10.2" font-weight="bold" text-anchor="end" fill="#111" >200</text>
<line x1="882.10" y1="928.70" x2="886.10" y2="928.70" stroke="#111" stroke-width="1.4" stroke-linecap="butt"/>
<text transform="translate(881.10,932.35) scale(0.96,1)" font-size="10.2" font-weight="bold" text-anchor="end" fill="#111" >250</text>
<text transform="translate(910.60,1076.12) scale(1.06,1)" font-size="11.5" font-weight="bold" text-anchor="middle" fill="#111" >0</text>
<text transform="translate(961.10,1076.12) scale(1.06,1)" font-size="11.5" font-weight="bold" text-anchor="middle" fill="#111" >1</text>
<text transform="translate(1011.60,1076.12) scale(1.06,1)" font-size="11.5" font-weight="bold" text-anchor="middle" fill="#111" >5</text>
<text transform="translate(1062.60,1076.12) scale(1.06,1)" font-size="11.5" font-weight="bold" text-anchor="middle" fill="#111" >10</text>
<line x1="907.10" y1="1081.60" x2="1077.90" y2="1081.60" stroke="#000" stroke-width="1.6" stroke-linecap="butt"/>
<text transform="translate(984.40,1097.92) scale(1.06,1)" font-size="11.5" font-weight="bold" text-anchor="middle" fill="#111" >2 (μM)</text>
<text transform="translate(858.99,990.50) rotate(-90)" font-size="10.6" font-weight="normal" text-anchor="middle" fill="#111" stroke="#111" stroke-width="0.3" textLength="159.7" lengthAdjust="spacing">Relative caspase 3/7 activity  (% )</text>
<text transform="translate(960.70,974.84)" font-size="12" font-weight="bold" text-anchor="middle" fill="#222" >***</text>
<text transform="translate(1011.20,961.44)" font-size="12" font-weight="bold" text-anchor="middle" fill="#222" >***</text>
<text transform="translate(1062.20,949.04)" font-size="12" font-weight="bold" text-anchor="middle" fill="#222" >***</text>
<text transform="translate(15.90,25.60)" font-size="19.3" font-weight="bold" text-anchor="middle" fill="#000" >A</text>
<text transform="translate(14.60,596.70)" font-size="19.3" font-weight="bold" text-anchor="middle" fill="#000" >B</text>
</svg>
</body></html>
